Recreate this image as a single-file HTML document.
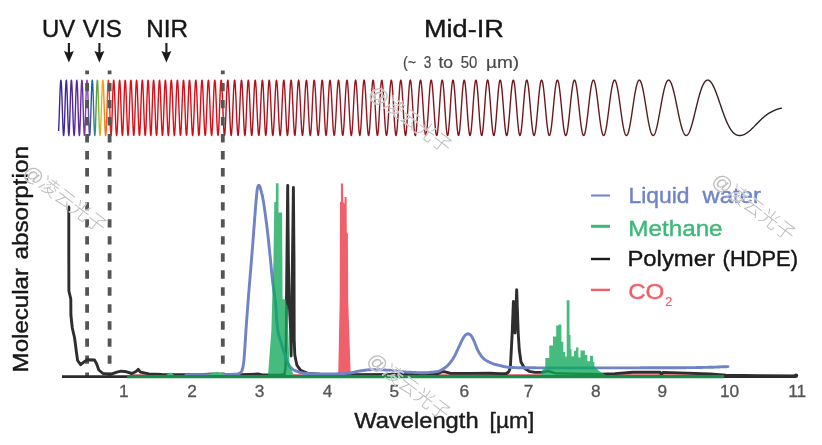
<!DOCTYPE html>
<html lang="en"><head><meta charset="utf-8"><title>Molecular absorption</title>
<style>
html,body{margin:0;padding:0;background:#fff;}
body{width:822px;height:445px;overflow:hidden;font-family:"Liberation Sans","Noto Sans CJK SC",sans-serif;}
svg{display:block;}
svg text{font-family:"Liberation Sans","Noto Sans CJK SC",sans-serif;}
</style></head><body>
<svg width="822" height="445" viewBox="0 0 822 445">
<defs>
<linearGradient id="wg" gradientUnits="userSpaceOnUse" x1="58" y1="0" x2="782" y2="0">
<stop offset="0.0000" stop-color="#38289a"/>
<stop offset="0.0110" stop-color="#42289c"/>
<stop offset="0.0249" stop-color="#58289e"/>
<stop offset="0.0331" stop-color="#6a2aa4"/>
<stop offset="0.0401" stop-color="#8a48b8"/>
<stop offset="0.0435" stop-color="#5a48b0"/>
<stop offset="0.0470" stop-color="#1a58a4"/>
<stop offset="0.0504" stop-color="#2a8a90"/>
<stop offset="0.0544" stop-color="#58a838"/>
<stop offset="0.0580" stop-color="#c8c020"/>
<stop offset="0.0617" stop-color="#f8a818"/>
<stop offset="0.0656" stop-color="#f87018"/>
<stop offset="0.0693" stop-color="#f04020"/>
<stop offset="0.0732" stop-color="#e41818"/>
<stop offset="0.0769" stop-color="#de0e16"/>
<stop offset="0.2271" stop-color="#dc0a14"/>
<stop offset="0.2282" stop-color="#b80e18"/>
<stop offset="0.3550" stop-color="#a0141e"/>
<stop offset="0.4931" stop-color="#8c141c"/>
<stop offset="0.6243" stop-color="#70141c"/>
<stop offset="0.7486" stop-color="#641a1e"/>
<stop offset="0.8039" stop-color="#581e22"/>
<stop offset="0.8453" stop-color="#4a2022"/>
<stop offset="0.9006" stop-color="#3a2022"/>
<stop offset="0.9558" stop-color="#2a2020"/>
<stop offset="1.0000" stop-color="#222222"/>
</linearGradient>
<clipPath id="gclip"><path d="M267.8,375.5 L268.3,372.0 L271.4,330.0 L272.2,300.0 L273.5,258.0 L274.3,202.0 L275.9,202.0 L275.9,183.3 L278.5,183.3 L278.5,212.6 L282.1,212.6 L282.3,250.0 L282.6,299.0 L285.3,299.5 L287.3,310.0 L288.2,330.0 L289.4,364.0 L293.8,375.5Z M541.0,375.5 L542.0,370.0 L545.3,368.5 L545.3,358.0 L549.2,358.0 L549.2,345.6 L553.0,345.6 L553.0,336.6 L556.2,336.6 L556.2,325.6 L558.6,325.6 L558.6,324.4 L561.4,324.4 L561.4,341.8 L563.3,341.8 L563.3,352.0 L565.0,352.0 L565.0,356.5 L566.7,356.5 L566.7,300.3 L569.5,300.3 L569.5,335.0 L570.5,335.0 L570.5,349.0 L571.5,349.0 L571.5,356.3 L574.0,356.3 L574.0,350.8 L576.0,350.8 L576.0,347.4 L578.4,347.4 L578.4,357.4 L580.5,357.4 L580.5,350.4 L584.9,350.4 L584.9,355.0 L587.4,355.0 L587.4,361.2 L590.0,361.2 L590.0,355.7 L593.1,355.7 L593.1,362.0 L594.4,362.0 L594.4,366.5 L598.0,370.0 L602.0,373.0 L606.0,375.5Z M130,375 H724 V378.4 H130 Z"/></clipPath>
</defs>
<rect width="822" height="445" fill="#fff"/>
<!-- spectrum wave -->
<path d="M58.60,130.92 L58.85,125.92 L59.10,119.54 L59.35,112.26 L59.60,104.61 L59.85,97.18 L60.10,90.54 L60.35,85.23 L60.60,81.67 L60.85,80.14 L61.10,80.80 L61.35,83.61 L61.60,88.37 L61.85,94.70 L62.10,102.11 L62.35,110.00 L62.60,117.74 L62.85,124.67 L63.10,130.23 L63.35,133.94 L63.60,135.47 L63.85,134.67 L64.10,131.60 L64.35,126.49 L64.60,119.77 L64.85,112.01 L65.10,103.86 L65.35,96.03 L65.60,89.21 L65.85,84.01 L66.10,80.89 L66.35,80.15 L66.60,81.88 L66.85,85.99 L67.10,92.13 L67.35,99.76 L67.60,108.19 L67.85,116.62 L68.10,124.23 L68.35,130.27 L68.60,134.16 L68.85,135.50 L69.10,134.16 L69.35,130.27 L69.60,124.23 L69.85,116.62 L70.10,108.19 L70.35,99.76 L70.60,92.13 L70.85,85.99 L71.10,81.88 L71.35,80.15 L71.60,80.89 L71.85,83.97 L72.10,89.10 L72.35,95.79 L72.60,103.47 L72.85,111.47 L73.10,119.14 L73.35,125.85 L73.60,131.07 L73.85,134.37 L74.10,135.50 L74.35,134.37 L74.60,131.07 L74.85,125.85 L75.10,119.14 L75.35,111.47 L75.60,103.47 L75.85,95.79 L76.10,89.10 L76.35,83.97 L76.60,80.89 L76.85,80.15 L77.10,81.88 L77.35,85.96 L77.60,92.04 L77.85,99.61 L78.10,107.96 L78.35,116.32 L78.60,123.91 L78.85,129.99 L79.10,133.99 L79.35,135.49 L79.60,134.36 L79.85,130.68 L80.10,124.81 L80.35,117.30 L80.60,108.89 L80.85,100.38 L81.10,92.58 L81.35,86.25 L81.60,81.98 L81.85,80.15 L82.10,80.94 L82.35,84.26 L82.60,89.82 L82.85,97.09 L83.10,105.38 L83.35,113.91 L83.60,121.86 L83.85,128.47 L84.10,133.11 L84.35,135.34 L84.60,134.94 L84.85,131.98 L85.10,126.73 L85.35,119.70 L85.60,111.57 L85.85,103.11 L86.10,95.10 L86.35,88.29 L86.60,83.29 L86.85,80.55 L87.10,80.30 L87.35,82.52 L87.60,86.99 L87.85,93.27 L88.10,100.81 L88.35,108.93 L88.60,116.94 L88.85,124.14 L89.10,129.92 L89.35,133.80 L89.60,135.45 L89.85,134.74 L90.10,131.72 L90.35,126.65 L90.60,119.95 L90.85,112.19 L91.10,104.03 L91.35,96.18 L91.60,89.31 L91.85,84.06 L92.10,80.90 L92.35,80.15 L92.60,81.91 L92.85,86.07 L93.10,92.28 L93.35,99.96 L93.60,108.42 L93.85,116.84 L94.10,124.42 L94.35,130.41 L94.60,134.23 L94.85,135.50 L95.10,134.10 L95.35,130.18 L95.60,124.12 L95.85,116.52 L96.10,108.12 L96.35,99.71 L96.60,92.10 L96.85,85.98 L97.10,81.88 L97.35,80.15 L97.60,80.89 L97.85,84.00 L98.10,89.19 L98.35,95.98 L98.60,103.78 L98.85,111.90 L99.10,119.64 L99.35,126.36 L99.60,131.49 L99.85,134.61 L100.10,135.48 L100.35,134.04 L100.60,130.41 L100.85,124.92 L101.10,118.03 L101.35,110.30 L101.60,102.38 L101.85,94.92 L102.10,88.51 L102.35,83.69 L102.60,80.82 L102.85,80.15 L103.10,81.70 L103.35,85.33 L103.60,90.73 L103.85,97.44 L104.10,104.93 L104.35,112.63 L104.60,119.94 L104.85,126.30 L105.10,131.24 L105.35,134.39 L105.60,135.50 L105.85,134.50 L106.10,131.45 L106.35,126.58 L106.60,120.26 L106.85,112.96 L107.10,105.23 L107.35,97.67 L107.60,90.88 L107.85,85.42 L108.10,81.73 L108.35,80.15 L108.60,80.84 L108.85,83.81 L109.10,88.86 L109.35,95.59 L109.60,103.43 L109.85,111.70 L110.10,119.66 L110.35,126.56 L110.60,131.78 L110.85,134.82 L111.10,135.41 L111.35,133.50 L111.60,129.28 L111.85,123.14 L112.10,115.67 L112.35,107.55 L112.60,99.51 L112.85,92.23 L113.10,86.33 L113.35,82.25 L113.60,80.28 L113.85,80.49 L114.10,82.80 L114.35,86.98 L114.60,92.67 L114.85,99.41 L115.10,106.70 L115.35,114.03 L115.60,120.88 L115.85,126.79 L116.10,131.37 L116.35,134.33 L116.60,135.49 L116.85,134.77 L117.10,132.22 L117.35,128.03 L117.60,122.46 L117.85,115.88 L118.10,108.73 L118.35,101.49 L118.60,94.65 L118.85,88.70 L119.10,84.07 L119.35,81.12 L119.60,80.10 L119.85,81.13 L120.10,84.18 L120.35,89.02 L120.60,95.33 L120.85,102.62 L121.10,110.34 L121.35,117.88 L121.60,124.65 L121.85,130.10 L122.10,133.79 L122.35,135.43 L122.60,134.87 L122.85,132.16 L123.10,127.51 L123.35,121.29 L123.60,114.00 L123.85,106.23 L124.10,98.60 L124.35,91.71 L124.60,86.09 L124.85,82.18 L125.10,80.27 L125.35,80.48 L125.60,82.79 L125.85,87.00 L126.10,92.79 L126.35,99.72 L126.60,107.25 L126.85,114.82 L127.10,121.85 L127.35,127.81 L127.60,132.26 L127.85,134.87 L128.10,135.45 L128.35,133.94 L128.60,130.48 L128.85,125.31 L129.10,118.83 L129.35,111.52 L129.60,103.93 L129.85,96.63 L130.10,90.17 L130.35,85.03 L130.60,81.60 L130.85,80.14 L131.10,80.77 L131.35,83.44 L131.60,87.95 L131.85,93.95 L132.10,101.00 L132.35,108.56 L132.60,116.07 L132.85,122.95 L133.10,128.69 L133.35,132.85 L133.60,135.12 L133.85,135.33 L134.10,133.46 L134.35,129.66 L134.60,124.20 L134.85,117.51 L135.10,110.09 L135.35,102.49 L135.60,95.29 L135.85,89.04 L136.10,84.20 L136.35,81.15 L136.60,80.10 L136.85,81.15 L137.10,84.21 L137.35,89.06 L137.60,95.33 L137.85,102.55 L138.10,110.16 L138.35,117.60 L138.60,124.30 L138.85,129.75 L139.10,133.52 L139.35,135.35 L139.60,135.09 L139.85,132.76 L140.10,128.54 L140.35,122.76 L140.60,115.86 L140.85,108.35 L141.10,100.81 L141.35,93.80 L141.60,87.85 L141.85,83.39 L142.10,80.76 L142.35,80.14 L142.60,81.57 L142.85,84.92 L143.10,89.93 L143.35,96.22 L143.60,103.34 L143.85,110.77 L144.10,117.97 L144.35,124.44 L144.60,129.72 L144.85,133.42 L145.10,135.30 L145.35,135.20 L145.60,133.14 L145.85,129.26 L146.10,123.81 L146.35,117.20 L146.60,109.89 L146.85,102.40 L147.10,95.28 L147.35,89.07 L147.60,84.23 L147.85,81.16 L148.10,80.10 L148.35,81.17 L148.60,84.34 L148.85,89.38 L149.10,95.94 L149.35,103.48 L149.60,111.41 L149.85,119.07 L150.10,125.81 L150.35,131.07 L150.60,134.40 L150.85,135.50 L151.10,134.29 L151.35,130.88 L151.60,125.56 L151.85,118.78 L152.10,111.12 L152.35,103.23 L152.60,95.74 L152.85,89.26 L153.10,84.27 L153.35,81.16 L153.60,80.10 L153.85,81.14 L154.10,84.16 L154.35,88.91 L154.60,95.01 L154.85,102.02 L155.10,109.41 L155.35,116.66 L155.60,123.26 L155.85,128.75 L156.10,132.77 L156.35,135.04 L156.60,135.41 L156.85,133.87 L157.10,130.54 L157.35,125.64 L157.60,119.52 L157.85,112.59 L158.10,105.33 L158.35,98.23 L158.60,91.78 L158.85,86.43 L159.10,82.56 L159.35,80.45 L159.60,80.26 L159.85,82.00 L160.10,85.56 L160.35,90.69 L160.60,97.03 L160.85,104.12 L161.10,111.48 L161.35,118.57 L161.60,124.91 L161.85,130.04 L162.10,133.60 L162.35,135.34 L162.60,135.15 L162.85,133.02 L163.10,129.12 L163.35,123.72 L163.60,117.20 L163.85,110.01 L164.10,102.67 L164.35,95.69 L164.60,89.56 L164.85,84.72 L165.10,81.50 L165.35,80.14 L165.60,80.73 L165.85,83.23 L166.10,87.47 L166.35,93.16 L166.60,99.89 L166.85,107.19 L167.10,114.54 L167.35,121.41 L167.60,127.30 L167.85,131.81 L168.10,134.61 L168.35,135.50 L168.60,134.42 L168.85,131.45 L169.10,126.82 L169.35,120.85 L169.60,113.96 L169.85,106.66 L170.10,99.45 L170.35,92.83 L170.60,87.27 L170.85,83.13 L171.10,80.71 L171.35,80.14 L171.60,81.45 L171.85,84.54 L172.10,89.20 L172.35,95.09 L172.60,101.81 L172.85,108.93 L173.10,115.95 L173.35,122.43 L173.60,127.93 L173.85,132.11 L174.10,134.68 L174.35,135.50 L174.60,134.50 L174.85,131.76 L175.10,127.46 L175.35,121.87 L175.60,115.37 L175.85,108.37 L176.10,101.34 L176.35,94.72 L176.60,88.95 L176.85,84.42 L177.10,81.41 L177.35,80.14 L177.60,80.69 L177.85,83.02 L178.10,86.98 L178.35,92.31 L178.60,98.66 L178.85,105.60 L179.10,112.69 L179.35,119.45 L179.60,125.45 L179.85,130.30 L180.10,133.66 L180.35,135.33 L180.60,135.20 L180.85,133.26 L181.10,129.65 L181.35,124.60 L181.60,118.43 L181.85,111.56 L182.10,104.44 L182.35,97.53 L182.60,91.30 L182.85,86.16 L183.10,82.45 L183.35,80.44 L183.60,80.25 L183.85,81.92 L184.10,85.34 L184.35,90.31 L184.60,96.48 L184.85,103.44 L185.10,110.71 L185.35,117.79 L185.60,124.18 L185.85,129.44 L186.10,133.21 L186.35,135.21 L186.60,135.31 L186.85,133.51 L187.10,129.93 L187.35,124.84 L187.60,118.59 L187.85,111.61 L188.10,104.39 L188.35,97.42 L188.60,91.17 L188.85,86.06 L189.10,82.40 L189.35,80.43 L189.60,80.24 L189.85,81.84 L190.10,85.10 L190.35,89.78 L190.60,95.59 L190.85,102.14 L191.10,109.03 L191.35,115.82 L191.60,122.11 L191.85,127.50 L192.10,131.68 L192.35,134.39 L192.60,135.48 L192.85,134.89 L193.10,132.65 L193.35,128.89 L193.60,123.86 L193.85,117.85 L194.10,111.22 L194.35,104.37 L194.60,97.73 L194.85,91.69 L195.10,86.63 L195.35,82.87 L195.60,80.66 L195.85,80.14 L196.10,81.35 L196.35,84.25 L196.60,88.65 L196.85,94.27 L197.10,100.77 L197.35,107.73 L197.60,114.71 L197.85,121.24 L198.10,126.91 L198.35,131.35 L198.60,134.26 L198.85,135.47 L199.10,134.89 L199.35,132.56 L199.60,128.64 L199.85,123.38 L200.10,117.12 L200.35,110.28 L200.60,103.29 L200.85,96.60 L201.10,90.63 L201.35,85.76 L201.60,82.29 L201.85,80.41 L202.10,80.24 L202.35,81.77 L202.60,84.89 L202.85,89.40 L203.10,95.03 L203.35,101.42 L203.60,108.19 L203.85,114.92 L204.10,121.22 L204.35,126.70 L204.60,131.05 L204.85,134.01 L205.10,135.40 L205.35,135.15 L205.60,133.28 L205.85,129.89 L206.10,125.19 L206.35,119.47 L206.60,113.05 L206.85,106.32 L207.10,99.67 L207.35,93.51 L207.60,88.19 L207.85,84.03 L208.10,81.29 L208.35,80.13 L208.60,80.63 L208.85,82.76 L209.10,86.39 L209.35,91.30 L209.60,97.20 L209.85,103.74 L210.10,110.52 L210.35,117.13 L210.60,123.19 L210.85,128.32 L211.10,132.23 L211.35,134.67 L211.60,135.50 L211.85,134.67 L212.10,132.23 L212.35,128.32 L212.60,123.19 L212.85,117.13 L213.10,110.52 L213.35,103.74 L213.60,97.20 L213.85,91.30 L214.10,86.39 L214.35,82.76 L214.60,80.63 L214.85,80.13 L215.10,81.29 L215.35,84.05 L215.60,88.24 L215.85,93.61 L216.10,99.84 L216.35,106.56 L216.60,113.35 L216.85,119.81 L217.10,125.54 L217.35,130.20 L217.60,133.50 L217.85,135.24 L218.10,135.33 L218.35,133.76 L218.60,130.62 L218.85,126.11 L219.10,120.51 L219.35,114.15 L219.60,107.43 L219.85,100.73 L220.10,94.47 L220.35,89.00 L220.60,84.65 L220.85,81.68 L221.10,80.23 L221.35,80.39 L221.60,82.14 L221.85,85.38 L222.10,89.90 L222.35,95.45 L222.60,101.70 L222.85,108.30 L223.10,114.86 L223.35,121.01 L223.60,126.40 L223.85,130.73 L224.10,133.75 L224.35,135.30 L224.60,135.30 L224.85,133.76 L225.10,130.75 L225.35,126.47 L225.60,121.14 L225.85,115.08 L226.10,108.62 L226.35,102.12 L226.60,95.94 L226.85,90.43 L227.10,85.88 L227.35,82.54 L227.60,80.59 L227.85,80.13 L228.10,81.19 L228.35,83.69 L228.60,87.50 L228.85,92.41 L229.10,98.13 L229.35,104.38 L229.60,110.79 L229.85,117.04 L230.10,122.79 L230.35,127.73 L230.60,131.61 L230.85,134.22 L231.10,135.42 L231.35,135.16 L231.60,133.46 L231.85,130.40 L232.10,126.16 L232.35,120.95 L232.60,115.05 L232.85,108.77 L233.10,102.45 L233.35,96.40 L233.60,90.96 L233.85,86.40 L234.10,82.96 L234.35,80.83 L234.60,80.10 L234.85,80.82 L235.10,82.95 L235.35,86.37 L235.60,90.90 L235.85,96.30 L236.10,102.28 L236.35,108.55 L236.60,114.77 L236.85,120.63 L237.10,125.83 L237.35,130.10 L237.60,133.22 L237.85,135.05 L238.10,135.47 L238.35,134.48 L238.60,132.12 L238.85,128.52 L239.10,123.85 L239.35,118.35 L239.60,112.31 L239.85,106.03 L240.10,99.84 L240.35,94.05 L240.60,88.97 L240.85,84.86 L241.10,81.94 L241.35,80.36 L241.60,80.22 L241.85,81.52 L242.10,84.20 L242.35,88.14 L242.60,93.12 L242.85,98.88 L243.10,105.12 L243.35,111.51 L243.60,117.71 L243.85,123.38 L244.10,128.22 L244.35,131.98 L244.60,134.43 L244.85,135.47 L245.10,135.02 L245.35,133.12 L245.60,129.87 L245.85,125.43 L246.10,120.06 L246.35,114.03 L246.60,107.68 L246.85,101.34 L247.10,95.35 L247.35,90.02 L247.60,85.64 L247.85,82.43 L248.10,80.57 L248.35,80.13 L248.60,81.14 L248.85,83.55 L249.10,87.24 L249.35,92.00 L249.60,97.59 L249.85,103.72 L250.10,110.06 L250.35,116.27 L250.60,122.05 L250.85,127.07 L251.10,131.09 L251.35,133.88 L251.60,135.32 L251.85,135.32 L252.10,133.90 L252.35,131.12 L252.60,127.15 L252.85,122.18 L253.10,116.49 L253.35,110.35 L253.60,104.10 L253.85,98.05 L254.10,92.50 L254.35,87.74 L254.60,83.99 L254.85,81.44 L255.10,80.21 L255.35,80.35 L255.60,81.83 L255.85,84.57 L256.10,88.42 L256.35,93.18 L256.60,98.63 L256.85,104.49 L257.10,110.49 L257.35,116.35 L257.60,121.81 L257.85,126.60 L258.10,130.52 L258.35,133.38 L258.60,135.06 L258.85,135.48 L259.10,134.62 L259.35,132.52 L259.60,129.26 L259.85,125.01 L260.10,119.94 L260.35,114.30 L260.60,108.33 L260.85,102.32 L261.10,96.56 L261.35,91.31 L261.60,86.84 L261.85,83.37 L262.10,81.09 L262.35,80.13 L262.60,80.55 L262.85,82.36 L263.10,85.49 L263.35,89.79 L263.60,95.07 L263.85,101.04 L264.10,107.39 L264.35,113.79 L264.60,119.88 L264.85,125.33 L265.10,129.83 L265.35,133.13 L265.60,135.04 L265.85,135.46 L266.10,134.37 L266.35,131.82 L266.60,127.97 L266.85,123.02 L267.10,117.27 L267.35,111.02 L267.60,104.62 L267.85,98.41 L268.10,92.72 L268.35,87.85 L268.60,84.03 L268.85,81.45 L269.10,80.21 L269.35,80.35 L269.60,81.83 L269.85,84.57 L270.10,88.42 L270.35,93.19 L270.60,98.63 L270.85,104.48 L271.10,110.47 L271.35,116.32 L271.60,121.76 L271.85,126.55 L272.10,130.46 L272.35,133.33 L272.60,135.03 L272.85,135.49 L273.10,134.70 L273.35,132.69 L273.60,129.56 L273.85,125.46 L274.10,120.56 L274.35,115.08 L274.60,109.27 L274.85,103.40 L275.10,97.72 L275.35,92.49 L275.60,87.95 L275.85,84.30 L276.10,81.72 L276.35,80.33 L276.60,80.20 L276.85,81.35 L277.10,83.71 L277.35,87.19 L277.60,91.61 L277.85,96.79 L278.10,102.47 L278.35,108.40 L278.60,114.30 L278.85,119.90 L279.10,124.94 L279.35,129.19 L279.60,132.45 L279.85,134.58 L280.10,135.47 L280.35,135.09 L280.60,133.45 L280.85,130.62 L281.10,126.74 L281.35,121.99 L281.60,116.59 L281.85,110.77 L282.10,104.83 L282.35,99.01 L282.60,93.61 L282.85,88.86 L283.10,84.98 L283.35,82.15 L283.60,80.51 L283.85,80.13 L284.10,81.02 L284.35,83.15 L284.60,86.43 L284.85,90.70 L285.10,95.76 L285.35,101.39 L285.60,107.31 L285.85,113.26 L286.10,118.96 L286.35,124.14 L286.60,128.55 L286.85,132.00 L287.10,134.33 L287.35,135.42 L287.60,135.23 L287.85,133.76 L288.10,131.10 L288.35,127.36 L288.60,122.71 L288.85,117.38 L289.10,111.62 L289.35,105.69 L289.60,99.86 L289.85,94.40 L290.10,89.56 L290.35,85.56 L290.60,82.57 L290.85,80.72 L291.10,80.10 L291.35,80.72 L291.60,82.56 L291.85,85.52 L292.10,89.48 L292.35,94.26 L292.60,99.63 L292.85,105.37 L293.10,111.21 L293.35,116.89 L293.60,122.17 L293.85,126.80 L294.10,130.59 L294.35,133.38 L294.60,135.03 L294.85,135.49 L295.10,134.73 L295.35,132.80 L295.60,129.78 L295.85,125.81 L296.10,121.06 L296.35,115.74 L296.60,110.09 L296.85,104.34 L297.10,98.76 L297.35,93.56 L297.60,88.99 L297.85,85.22 L298.10,82.41 L298.35,80.68 L298.60,80.10 L298.85,80.68 L299.10,82.39 L299.35,85.16 L299.60,88.85 L299.85,93.32 L300.10,98.38 L300.35,103.81 L300.60,109.40 L300.85,114.92 L301.10,120.13 L301.35,124.84 L301.60,128.86 L301.85,132.03 L302.10,134.22 L302.35,135.35 L302.60,135.37 L302.85,134.30 L303.10,132.16 L303.35,129.05 L303.60,125.10 L303.85,120.45 L304.10,115.30 L304.35,109.85 L304.60,104.32 L304.85,98.93 L305.10,93.88 L305.35,89.39 L305.60,85.64 L305.85,82.77 L306.10,80.90 L306.35,80.12 L306.60,80.46 L306.85,81.90 L307.10,84.40 L307.35,87.84 L307.60,92.10 L307.85,97.00 L308.10,102.34 L308.35,107.90 L308.60,113.46 L308.85,118.79 L309.10,123.68 L309.35,127.91 L309.60,131.33 L309.85,133.78 L310.10,135.18 L310.35,135.46 L310.60,134.62 L310.85,132.69 L311.10,129.75 L311.35,125.93 L311.60,121.37 L311.85,116.27 L312.10,110.83 L312.35,105.27 L312.60,99.82 L312.85,94.70 L313.10,90.11 L313.35,86.22 L313.60,83.21 L313.85,81.17 L314.10,80.19 L314.35,80.30 L314.60,81.49 L314.85,83.70 L315.10,86.85 L315.35,90.80 L315.60,95.41 L315.85,100.49 L316.10,105.84 L316.35,111.26 L316.60,116.54 L316.85,121.48 L317.10,125.90 L317.35,129.62 L317.60,132.52 L317.85,134.47 L318.10,135.42 L318.35,135.31 L318.60,134.16 L318.85,132.01 L319.10,128.94 L319.35,125.06 L319.60,120.53 L319.85,115.50 L320.10,110.18 L320.35,104.75 L320.60,99.44 L320.85,94.44 L321.10,89.96 L321.35,86.15 L321.60,83.18 L321.85,81.16 L322.10,80.19 L322.35,80.30 L322.60,81.50 L322.85,83.76 L323.10,86.99 L323.35,91.08 L323.60,95.86 L323.85,101.14 L324.10,106.71 L324.35,112.33 L324.60,117.77 L324.85,122.80 L325.10,127.22 L325.35,130.82 L325.60,133.47 L325.85,135.05 L326.10,135.49 L326.35,134.79 L326.60,132.96 L326.85,130.11 L327.10,126.34 L327.35,121.82 L327.60,116.73 L327.85,111.31 L328.10,105.76 L328.35,100.31 L328.60,95.18 L328.85,90.57 L329.10,86.65 L329.35,83.56 L329.60,81.42 L329.85,80.29 L330.10,80.18 L330.35,81.10 L330.60,82.98 L330.85,85.76 L331.10,89.31 L331.35,93.51 L331.60,98.19 L331.85,103.20 L332.10,108.35 L332.35,113.46 L332.60,118.37 L332.85,122.90 L333.10,126.90 L333.35,130.25 L333.60,132.84 L333.85,134.58 L334.10,135.42 L334.35,135.34 L334.60,134.34 L334.85,132.47 L335.10,129.77 L335.35,126.35 L335.60,122.32 L335.85,117.81 L336.10,112.97 L336.35,107.95 L336.60,102.92 L336.85,98.06 L337.10,93.51 L337.35,89.43 L337.60,85.96 L337.85,83.22 L338.10,81.30 L338.35,80.27 L338.60,80.18 L338.85,81.02 L339.10,82.78 L339.35,85.40 L339.60,88.77 L339.85,92.80 L340.10,97.35 L340.35,102.24 L340.60,107.33 L340.85,112.44 L341.10,117.39 L341.35,122.01 L341.60,126.14 L341.85,129.65 L342.10,132.41 L342.35,134.33 L342.60,135.34 L342.85,135.41 L343.10,134.54 L343.35,132.76 L343.60,130.12 L343.85,126.73 L344.10,122.69 L344.35,118.14 L344.60,113.25 L344.85,108.17 L345.10,103.08 L345.35,98.15 L345.60,93.56 L345.85,89.44 L346.10,85.95 L346.35,83.21 L346.60,81.29 L346.85,80.27 L347.10,80.17 L347.35,81.01 L347.60,82.74 L347.85,85.31 L348.10,88.64 L348.35,92.59 L348.60,97.06 L348.85,101.87 L349.10,106.88 L349.35,111.92 L349.60,116.82 L349.85,121.42 L350.10,125.57 L350.35,129.13 L350.60,131.98 L350.85,134.02 L351.10,135.21 L351.35,135.48 L351.60,134.84 L351.85,133.31 L352.10,130.93 L352.35,127.78 L352.60,123.97 L352.85,119.63 L353.10,114.89 L353.35,109.92 L353.60,104.87 L353.85,99.91 L354.10,95.22 L354.35,90.94 L354.60,87.22 L354.85,84.19 L355.10,81.95 L355.35,80.57 L355.60,80.10 L355.85,80.57 L356.10,81.96 L356.35,84.23 L356.60,87.31 L356.85,91.09 L357.10,95.46 L357.35,100.25 L357.60,105.31 L357.85,110.46 L358.10,115.53 L358.35,120.32 L358.60,124.69 L358.85,128.47 L359.10,131.53 L359.35,133.77 L359.60,135.11 L359.85,135.50 L360.10,134.93 L360.35,133.42 L360.60,131.03 L360.85,127.84 L361.10,123.97 L361.35,119.55 L361.60,114.74 L361.85,109.71 L362.10,104.61 L362.35,99.64 L362.60,94.95 L362.85,90.70 L363.10,87.04 L363.35,84.06 L363.60,81.88 L363.85,80.55 L364.10,80.10 L364.35,80.54 L364.60,81.85 L364.85,83.98 L365.10,86.85 L365.35,90.36 L365.60,94.40 L365.85,98.84 L366.10,103.54 L366.35,108.37 L366.60,113.16 L366.85,117.79 L367.10,122.10 L367.35,125.98 L367.60,129.31 L367.85,131.99 L368.10,133.95 L368.35,135.13 L368.60,135.50 L368.85,135.04 L369.10,133.78 L369.35,131.74 L369.60,129.00 L369.85,125.62 L370.10,121.71 L370.35,117.38 L370.60,112.76 L370.85,107.98 L371.10,103.19 L371.35,98.53 L371.60,94.15 L371.85,90.17 L372.10,86.71 L372.35,83.90 L372.60,81.82 L372.85,80.53 L373.10,80.10 L373.35,80.54 L373.60,81.84 L373.85,83.98 L374.10,86.90 L374.35,90.50 L374.60,94.68 L374.85,99.30 L375.10,104.22 L375.35,109.26 L375.60,114.26 L375.85,119.05 L376.10,123.47 L376.35,127.37 L376.60,130.62 L376.85,133.10 L377.10,134.73 L377.35,135.46 L377.60,135.26 L377.85,134.15 L378.10,132.15 L378.35,129.35 L378.60,125.84 L378.85,121.74 L379.10,117.19 L379.35,112.35 L379.60,107.38 L379.85,102.43 L380.10,97.67 L380.35,93.26 L380.60,89.32 L380.85,85.98 L381.10,83.33 L381.35,81.44 L381.60,80.37 L381.85,80.12 L382.10,80.69 L382.35,82.06 L382.60,84.17 L382.85,86.96 L383.10,90.33 L383.35,94.19 L383.60,98.42 L383.85,102.90 L384.10,107.51 L384.35,112.10 L384.60,116.57 L384.85,120.79 L385.10,124.64 L385.35,128.02 L385.60,130.85 L385.85,133.05 L386.10,134.57 L386.35,135.37 L386.60,135.44 L386.85,134.76 L387.10,133.37 L387.35,131.31 L387.60,128.62 L387.85,125.38 L388.10,121.67 L388.35,117.60 L388.60,113.27 L388.85,108.79 L389.10,104.28 L389.35,99.87 L389.60,95.66 L389.85,91.77 L390.10,88.30 L390.35,85.35 L390.60,83.00 L390.85,81.31 L391.10,80.34 L391.35,80.12 L391.60,80.64 L391.85,81.91 L392.10,83.89 L392.35,86.52 L392.60,89.72 L392.85,93.42 L393.10,97.52 L393.35,101.89 L393.60,106.43 L393.85,111.00 L394.10,115.48 L394.35,119.76 L394.60,123.71 L394.85,127.22 L395.10,130.21 L395.35,132.58 L395.60,134.28 L395.85,135.26 L396.10,135.48 L396.35,134.96 L396.60,133.69 L396.85,131.71 L397.10,129.08 L397.35,125.88 L397.60,122.18 L397.85,118.08 L398.10,113.71 L398.35,109.17 L398.60,104.60 L398.85,100.12 L399.10,95.84 L399.35,91.89 L399.60,88.38 L399.85,85.39 L400.10,83.02 L400.35,81.32 L400.60,80.34 L400.85,80.12 L401.10,80.64 L401.35,81.92 L401.60,83.91 L401.85,86.56 L402.10,89.80 L402.35,93.54 L402.60,97.68 L402.85,102.11 L403.10,106.70 L403.35,111.32 L403.60,115.84 L403.85,120.14 L404.10,124.10 L404.35,127.60 L404.60,130.55 L404.85,132.86 L405.10,134.48 L405.35,135.34 L405.60,135.45 L405.85,134.79 L406.10,133.38 L406.35,131.26 L406.60,128.51 L406.85,125.18 L407.10,121.39 L407.35,117.24 L407.60,112.84 L407.85,108.31 L408.10,103.77 L408.35,99.36 L408.60,95.18 L408.85,91.35 L409.10,87.96 L409.35,85.10 L409.60,82.85 L409.85,81.24 L410.10,80.33 L410.35,80.11 L410.60,80.60 L410.85,81.78 L411.10,83.61 L411.35,86.04 L411.60,89.00 L411.85,92.43 L412.10,96.22 L412.35,100.30 L412.60,104.55 L412.85,108.87 L413.10,113.16 L413.35,117.31 L413.60,121.23 L413.85,124.81 L414.10,127.98 L414.35,130.66 L414.60,132.80 L414.85,134.33 L415.10,135.24 L415.35,135.50 L415.60,135.10 L415.85,134.07 L416.10,132.42 L416.35,130.20 L416.60,127.47 L416.85,124.28 L417.10,120.71 L417.35,116.85 L417.60,112.78 L417.85,108.61 L418.10,104.42 L418.35,100.31 L418.60,96.37 L418.85,92.71 L419.10,89.38 L419.35,86.48 L419.60,84.07 L419.85,82.19 L420.10,80.90 L420.35,80.21 L420.60,80.15 L420.85,80.71 L421.10,81.88 L421.35,83.62 L421.60,85.91 L421.85,88.67 L422.10,91.86 L422.35,95.39 L422.60,99.20 L422.85,103.19 L423.10,107.27 L423.35,111.36 L423.60,115.37 L423.85,119.21 L424.10,122.80 L424.35,126.05 L424.60,128.91 L424.85,131.31 L425.10,133.20 L425.35,134.54 L425.60,135.31 L425.85,135.49 L426.10,135.07 L426.35,134.07 L426.60,132.52 L426.85,130.43 L427.10,127.87 L427.35,124.89 L427.60,121.54 L427.85,117.90 L428.10,114.06 L428.35,110.08 L428.60,106.06 L428.85,102.08 L429.10,98.22 L429.35,94.56 L429.60,91.18 L429.85,88.15 L430.10,85.54 L430.35,83.39 L430.60,81.76 L430.85,80.67 L431.10,80.15 L431.35,80.20 L431.60,80.84 L431.85,82.03 L432.10,83.76 L432.35,85.98 L432.60,88.65 L432.85,91.71 L433.10,95.09 L433.35,98.73 L433.60,102.56 L433.85,106.48 L434.10,110.43 L434.35,114.33 L434.60,118.08 L434.85,121.63 L435.10,124.89 L435.35,127.81 L435.60,130.32 L435.85,132.38 L436.10,133.94 L436.35,134.97 L436.60,135.46 L436.85,135.39 L437.10,134.77 L437.35,133.60 L437.60,131.91 L437.85,129.74 L438.10,127.12 L438.35,124.12 L438.60,120.78 L438.85,117.18 L439.10,113.39 L439.35,109.49 L439.60,105.55 L439.85,101.65 L440.10,97.87 L440.35,94.29 L440.60,90.99 L440.85,88.02 L441.10,85.45 L441.35,83.34 L441.60,81.73 L441.85,80.66 L442.10,80.15 L442.35,80.20 L442.60,80.84 L442.85,82.03 L443.10,83.77 L443.35,86.01 L443.60,88.71 L443.85,91.82 L444.10,95.27 L444.35,98.99 L444.60,102.90 L444.85,106.91 L445.10,110.95 L445.35,114.93 L445.60,118.75 L445.85,122.34 L446.10,125.63 L446.35,128.53 L446.60,130.99 L446.85,132.95 L447.10,134.38 L447.35,135.23 L447.60,135.50 L447.85,135.17 L448.10,134.26 L448.35,132.79 L448.60,130.78 L448.85,128.28 L449.10,125.35 L449.35,122.05 L449.60,118.44 L449.85,114.62 L450.10,110.65 L450.35,106.63 L450.60,102.63 L450.85,98.75 L451.10,95.07 L451.35,91.66 L451.60,88.58 L451.85,85.92 L452.10,83.71 L452.35,82.00 L452.60,80.82 L452.85,80.20 L453.10,80.15 L453.35,80.65 L453.60,81.71 L453.85,83.29 L454.10,85.38 L454.35,87.91 L454.60,90.84 L454.85,94.12 L455.10,97.67 L455.35,101.41 L455.60,105.29 L455.85,109.21 L456.10,113.10 L456.35,116.88 L456.60,120.48 L456.85,123.82 L457.10,126.84 L457.35,129.48 L457.60,131.68 L457.85,133.42 L458.10,134.64 L458.35,135.34 L458.60,135.49 L458.85,135.09 L459.10,134.16 L459.35,132.72 L459.60,130.79 L459.85,128.41 L460.10,125.63 L460.35,122.51 L460.60,119.11 L460.85,115.49 L461.10,111.73 L461.35,107.89 L461.60,104.06 L461.85,100.30 L462.10,96.69 L462.35,93.29 L462.60,90.18 L462.85,87.40 L463.10,85.02 L463.35,83.07 L463.60,81.59 L463.85,80.61 L464.10,80.14 L464.35,80.19 L464.60,80.76 L464.85,81.84 L465.10,83.39 L465.35,85.40 L465.60,87.81 L465.85,90.59 L466.10,93.68 L466.35,97.03 L466.60,100.57 L466.85,104.24 L467.10,107.96 L467.35,111.68 L467.60,115.33 L467.85,118.84 L468.10,122.14 L468.35,125.18 L468.60,127.91 L468.85,130.27 L469.10,132.23 L469.35,133.75 L469.60,134.81 L469.85,135.39 L470.10,135.47 L470.35,135.07 L470.60,134.17 L470.85,132.81 L471.10,131.01 L471.35,128.79 L471.60,126.20 L471.85,123.29 L472.10,120.10 L472.35,116.69 L472.60,113.13 L472.85,109.47 L473.10,105.78 L473.35,102.12 L473.60,98.56 L473.85,95.17 L474.10,92.00 L474.35,89.11 L474.60,86.55 L474.85,84.37 L475.10,82.61 L475.35,81.30 L475.60,80.46 L475.85,80.11 L476.10,80.26 L476.35,80.91 L476.60,82.04 L476.85,83.65 L477.10,85.69 L477.35,88.14 L477.60,90.95 L477.85,94.08 L478.10,97.46 L478.35,101.02 L478.60,104.72 L478.85,108.47 L479.10,112.22 L479.35,115.88 L479.60,119.40 L479.85,122.70 L480.10,125.72 L480.35,128.42 L480.60,130.73 L480.85,132.63 L481.10,134.06 L481.35,135.01 L481.60,135.46 L481.85,135.40 L482.10,134.84 L482.35,133.79 L482.60,132.26 L482.85,130.29 L483.10,127.91 L483.35,125.17 L483.60,122.12 L483.85,118.82 L484.10,115.32 L484.35,111.70 L484.60,108.01 L484.85,104.33 L485.10,100.72 L485.35,97.23 L485.60,93.95 L485.85,90.91 L486.10,88.17 L486.35,85.78 L486.60,83.77 L486.85,82.18 L487.10,81.03 L487.35,80.33 L487.60,80.10 L487.85,80.33 L488.10,81.02 L488.35,82.15 L488.60,83.70 L488.85,85.64 L489.10,87.94 L489.35,90.56 L489.60,93.45 L489.85,96.58 L490.10,99.87 L490.35,103.29 L490.60,106.78 L490.85,110.27 L491.10,113.72 L491.35,117.07 L491.60,120.27 L491.85,123.27 L492.10,126.02 L492.35,128.48 L492.60,130.62 L492.85,132.40 L493.10,133.79 L493.35,134.78 L493.60,135.35 L493.85,135.49 L494.10,135.21 L494.35,134.51 L494.60,133.40 L494.85,131.90 L495.10,130.04 L495.35,127.84 L495.60,125.33 L495.85,122.56 L496.10,119.57 L496.35,116.41 L496.60,113.11 L496.85,109.74 L497.10,106.34 L497.35,102.97 L497.60,99.67 L497.85,96.49 L498.10,93.48 L498.35,90.69 L498.60,88.16 L498.85,85.92 L499.10,84.01 L499.35,82.46 L499.60,81.28 L499.85,80.50 L500.10,80.13 L500.35,80.17 L500.60,80.63 L500.85,81.48 L501.10,82.73 L501.35,84.35 L501.60,86.31 L501.85,88.59 L502.10,91.15 L502.35,93.96 L502.60,96.96 L502.85,100.12 L503.10,103.39 L503.35,106.73 L503.60,110.07 L503.85,113.38 L504.10,116.61 L504.35,119.71 L504.60,122.63 L504.85,125.33 L505.10,127.78 L505.35,129.94 L505.60,131.77 L505.85,133.26 L506.10,134.39 L506.35,135.13 L506.60,135.47 L506.85,135.42 L507.10,134.98 L507.35,134.14 L507.60,132.93 L507.85,131.37 L508.10,129.46 L508.35,127.26 L508.60,124.77 L508.85,122.05 L509.10,119.12 L509.35,116.04 L509.60,112.84 L509.85,109.58 L510.10,106.29 L510.35,103.02 L510.60,99.82 L510.85,96.74 L511.10,93.81 L511.35,91.08 L511.60,88.59 L511.85,86.36 L512.10,84.44 L512.35,82.85 L512.60,81.60 L512.85,80.72 L513.10,80.22 L513.35,80.11 L513.60,80.38 L513.85,81.03 L514.10,82.06 L514.35,83.45 L514.60,85.17 L514.85,87.22 L515.10,89.55 L515.35,92.14 L515.60,94.95 L515.85,97.94 L516.10,101.07 L516.35,104.29 L516.60,107.56 L516.85,110.83 L517.10,114.06 L517.35,117.20 L517.60,120.20 L517.85,123.03 L518.10,125.65 L518.35,128.02 L518.60,130.11 L518.85,131.88 L519.10,133.32 L519.35,134.41 L519.60,135.13 L519.85,135.47 L520.10,135.43 L520.35,135.01 L520.60,134.22 L520.85,133.07 L521.10,131.58 L521.35,129.77 L521.60,127.66 L521.85,125.28 L522.10,122.68 L522.35,119.88 L522.60,116.92 L522.85,113.85 L523.10,110.70 L523.35,107.52 L523.60,104.35 L523.85,101.23 L524.10,98.21 L524.35,95.31 L524.60,92.59 L524.85,90.06 L525.10,87.77 L525.35,85.74 L525.60,84.00 L525.85,82.56 L526.10,81.44 L526.35,80.65 L526.60,80.21 L526.85,80.11 L527.10,80.35 L527.35,80.92 L527.60,81.82 L527.85,83.04 L528.10,84.55 L528.35,86.34 L528.60,88.39 L528.85,90.66 L529.10,93.14 L529.35,95.79 L529.60,98.57 L529.85,101.46 L530.10,104.42 L530.35,107.41 L530.60,110.40 L530.85,113.36 L531.10,116.24 L531.35,119.03 L531.60,121.68 L531.85,124.17 L532.10,126.46 L532.35,128.54 L532.60,130.38 L532.85,131.96 L533.10,133.26 L533.35,134.28 L533.60,134.99 L533.85,135.40 L534.10,135.49 L534.35,135.28 L534.60,134.76 L534.85,133.95 L535.10,132.84 L535.35,131.46 L535.60,129.82 L535.85,127.93 L536.10,125.83 L536.35,123.54 L536.60,121.07 L536.85,118.46 L537.10,115.74 L537.35,112.94 L537.60,110.08 L537.85,107.20 L538.10,104.33 L538.35,101.51 L538.60,98.75 L538.85,96.09 L539.10,93.56 L539.35,91.18 L539.60,88.98 L539.85,86.99 L540.10,85.21 L540.35,83.68 L540.60,82.41 L540.85,81.41 L541.10,80.68 L541.35,80.25 L541.60,80.10 L541.85,80.25 L542.10,80.68 L542.35,81.40 L542.60,82.40 L542.85,83.66 L543.10,85.17 L543.35,86.92 L543.60,88.88 L543.85,91.04 L544.10,93.36 L544.35,95.84 L544.60,98.44 L544.85,101.13 L545.10,103.89 L545.35,106.68 L545.60,109.49 L545.85,112.27 L546.10,115.01 L546.35,117.67 L546.60,120.22 L546.85,122.65 L547.10,124.92 L547.35,127.02 L547.60,128.93 L547.85,130.62 L548.10,132.07 L548.35,133.29 L548.60,134.24 L548.85,134.93 L549.10,135.35 L549.35,135.50 L549.60,135.37 L549.85,134.97 L550.10,134.30 L550.35,133.37 L550.60,132.19 L550.85,130.78 L551.10,129.14 L551.35,127.29 L551.60,125.26 L551.85,123.06 L552.10,120.71 L552.35,118.25 L552.60,115.68 L552.85,113.05 L553.10,110.36 L553.35,107.66 L553.60,104.96 L553.85,102.29 L554.10,99.68 L554.35,97.14 L554.60,94.71 L554.85,92.41 L555.10,90.25 L555.35,88.27 L555.60,86.46 L555.85,84.86 L556.10,83.47 L556.35,82.31 L556.60,81.39 L556.85,80.71 L557.10,80.28 L557.35,80.11 L557.60,80.18 L557.85,80.51 L558.10,81.08 L558.35,81.90 L558.60,82.95 L558.85,84.22 L559.10,85.71 L559.35,87.39 L559.60,89.26 L559.85,91.29 L560.10,93.46 L560.35,95.76 L560.60,98.17 L560.85,100.66 L561.10,103.21 L561.35,105.80 L561.60,108.40 L561.85,111.00 L562.10,113.56 L562.35,116.07 L562.60,118.51 L562.85,120.85 L563.10,123.07 L563.35,125.15 L563.60,127.09 L563.85,128.85 L564.10,130.43 L564.35,131.82 L564.60,132.99 L564.85,133.95 L565.10,134.68 L565.35,135.18 L565.60,135.45 L565.85,135.48 L566.10,135.28 L566.35,134.85 L566.60,134.19 L566.85,133.31 L567.10,132.21 L567.35,130.91 L567.60,129.42 L567.85,127.76 L568.10,125.93 L568.35,123.95 L568.60,121.84 L568.85,119.62 L569.10,117.31 L569.35,114.92 L569.60,112.48 L569.85,110.00 L570.10,107.51 L570.35,105.03 L570.60,102.57 L570.85,100.16 L571.10,97.81 L571.35,95.55 L571.60,93.38 L571.85,91.34 L572.10,89.43 L572.35,87.66 L572.60,86.06 L572.85,84.63 L573.10,83.38 L573.35,82.32 L573.60,81.47 L573.85,80.81 L574.10,80.37 L574.35,80.14 L574.60,80.12 L574.85,80.31 L575.10,80.70 L575.35,81.31 L575.60,82.11 L575.85,83.11 L576.10,84.29 L576.35,85.64 L576.60,87.16 L576.85,88.83 L577.10,90.64 L577.35,92.58 L577.60,94.63 L577.85,96.77 L578.10,98.99 L578.35,101.27 L578.60,103.60 L578.85,105.96 L579.10,108.32 L579.35,110.68 L579.60,113.02 L579.85,115.31 L580.10,117.55 L580.35,119.71 L580.60,121.79 L580.85,123.76 L581.10,125.62 L581.35,127.34 L581.60,128.93 L581.85,130.36 L582.10,131.63 L582.35,132.73 L582.60,133.66 L582.85,134.40 L583.10,134.95 L583.35,135.31 L583.60,135.49 L583.85,135.46 L584.10,135.25 L584.35,134.85 L584.60,134.26 L584.85,133.49 L585.10,132.55 L585.35,131.44 L585.60,130.17 L585.85,128.75 L586.10,127.19 L586.35,125.50 L586.60,123.69 L586.85,121.79 L587.10,119.79 L587.35,117.71 L587.60,115.57 L587.85,113.38 L588.10,111.16 L588.35,108.92 L588.60,106.68 L588.85,104.45 L589.10,102.24 L589.35,100.07 L589.60,97.96 L589.85,95.91 L590.10,93.94 L590.35,92.07 L590.60,90.30 L590.85,88.64 L591.10,87.11 L591.35,85.71 L591.60,84.45 L591.85,83.34 L592.10,82.39 L592.35,81.60 L592.60,80.97 L592.85,80.51 L593.10,80.22 L593.35,80.10 L593.60,80.15 L593.85,80.38 L594.10,80.76 L594.35,81.32 L594.60,82.03 L594.85,82.90 L595.10,83.92 L595.35,85.09 L595.60,86.39 L595.85,87.82 L596.10,89.36 L596.35,91.02 L596.60,92.77 L596.85,94.62 L597.10,96.54 L597.35,98.52 L597.60,100.56 L597.85,102.64 L598.10,104.74 L598.35,106.87 L598.60,108.99 L598.85,111.10 L599.10,113.20 L599.35,115.26 L599.60,117.27 L599.85,119.22 L600.10,121.11 L600.35,122.92 L600.60,124.63 L600.85,126.25 L601.10,127.76 L601.35,129.16 L601.60,130.43 L601.85,131.57 L602.10,132.57 L602.35,133.43 L602.60,134.15 L602.85,134.71 L603.10,135.13 L603.35,135.39 L603.60,135.50 L603.85,135.45 L604.10,135.25 L604.35,134.90 L604.60,134.40 L604.85,133.76 L605.10,132.97 L605.35,132.05 L605.60,131.00 L605.85,129.82 L606.10,128.53 L606.35,127.13 L606.60,125.63 L606.85,124.03 L607.10,122.35 L607.35,120.60 L607.60,118.78 L607.85,116.91 L608.10,114.99 L608.35,113.04 L608.60,111.07 L608.85,109.08 L609.10,107.09 L609.35,105.11 L609.60,103.14 L609.85,101.20 L610.10,99.30 L610.35,97.45 L610.60,95.65 L610.85,93.92 L611.10,92.26 L611.35,90.68 L611.60,89.19 L611.85,87.79 L612.10,86.50 L612.35,85.31 L612.60,84.24 L612.85,83.28 L613.10,82.44 L613.35,81.73 L613.60,81.15 L613.85,80.69 L614.10,80.36 L614.35,80.17 L614.60,80.10 L614.85,80.17 L615.10,80.36 L615.35,80.68 L615.60,81.13 L615.85,81.70 L616.10,82.39 L616.35,83.20 L616.60,84.12 L616.85,85.15 L617.10,86.28 L617.35,87.51 L617.60,88.82 L617.85,90.22 L618.10,91.70 L618.35,93.25 L618.60,94.87 L618.85,96.53 L619.10,98.25 L619.35,100.01 L619.60,101.80 L619.85,103.61 L620.10,105.44 L620.35,107.27 L620.60,109.11 L620.85,110.94 L621.10,112.75 L621.35,114.54 L621.60,116.29 L621.85,118.01 L622.10,119.67 L622.35,121.29 L622.60,122.84 L622.85,124.33 L623.10,125.75 L623.35,127.08 L623.60,128.34 L623.85,129.50 L624.10,130.57 L624.35,131.54 L624.60,132.42 L624.85,133.18 L625.10,133.85 L625.35,134.40 L625.60,134.84 L625.85,135.17 L626.10,135.39 L626.35,135.49 L626.60,135.48 L626.85,135.36 L627.10,135.12 L627.35,134.78 L627.60,134.33 L627.85,133.77 L628.10,133.11 L628.35,132.35 L628.60,131.49 L628.85,130.54 L629.10,129.51 L629.35,128.38 L629.60,127.18 L629.85,125.91 L630.10,124.57 L630.35,123.16 L630.60,121.70 L630.85,120.19 L631.10,118.63 L631.35,117.03 L631.60,115.40 L631.85,113.75 L632.10,112.07 L632.35,110.38 L632.60,108.69 L632.85,106.99 L633.10,105.30 L633.35,103.63 L633.60,101.97 L633.85,100.33 L634.10,98.73 L634.35,97.16 L634.60,95.63 L634.85,94.16 L635.10,92.73 L635.35,91.36 L635.60,90.05 L635.85,88.81 L636.10,87.64 L636.35,86.54 L636.60,85.52 L636.85,84.58 L637.10,83.73 L637.35,82.96 L637.60,82.28 L637.85,81.69 L638.10,81.19 L638.35,80.78 L638.60,80.47 L638.85,80.25 L639.10,80.13 L639.35,80.10 L639.60,80.17 L639.85,80.33 L640.10,80.58 L640.35,80.92 L640.60,81.36 L640.85,81.88 L641.10,82.50 L641.35,83.19 L641.60,83.97 L641.85,84.83 L642.10,85.76 L642.35,86.77 L642.60,87.84 L642.85,88.98 L643.10,90.19 L643.35,91.45 L643.60,92.76 L643.85,94.12 L644.10,95.53 L644.35,96.98 L644.60,98.45 L644.85,99.96 L645.10,101.49 L645.35,103.05 L645.60,104.61 L645.85,106.18 L646.10,107.76 L646.35,109.34 L646.60,110.91 L646.85,112.46 L647.10,114.00 L647.35,115.52 L647.60,117.01 L647.85,118.47 L648.10,119.90 L648.35,121.28 L648.60,122.62 L648.85,123.91 L649.10,125.15 L649.35,126.33 L649.60,127.45 L649.85,128.51 L650.10,129.50 L650.35,130.43 L650.60,131.28 L650.85,132.06 L651.10,132.76 L651.35,133.39 L651.60,133.94 L651.85,134.40 L652.10,134.79 L652.35,135.09 L652.60,135.31 L652.85,135.45 L653.10,135.50 L653.35,135.47 L653.60,135.36 L653.85,135.17 L654.10,134.89 L654.35,134.54 L654.60,134.11 L654.85,133.61 L655.10,133.03 L655.35,132.38 L655.60,131.66 L655.85,130.87 L656.10,130.02 L656.35,129.11 L656.60,128.14 L656.85,127.11 L657.10,126.04 L657.35,124.91 L657.60,123.74 L657.85,122.53 L658.10,121.28 L658.35,119.99 L658.60,118.68 L658.85,117.33 L659.10,115.97 L659.35,114.59 L659.60,113.19 L659.85,111.78 L660.10,110.37 L660.35,108.95 L660.60,107.53 L660.85,106.12 L661.10,104.71 L661.35,103.32 L661.60,101.94 L661.85,100.58 L662.10,99.24 L662.35,97.93 L662.60,96.65 L662.85,95.40 L663.10,94.18 L663.35,93.00 L663.60,91.86 L663.85,90.76 L664.10,89.71 L664.35,88.70 L664.60,87.74 L664.85,86.83 L665.10,85.98 L665.35,85.18 L665.60,84.43 L665.85,83.74 L666.10,83.11 L666.35,82.54 L666.60,82.03 L666.85,81.58 L667.10,81.18 L667.35,80.85 L667.60,80.58 L667.85,80.37 L668.10,80.22 L668.35,80.13 L668.60,80.10 L668.85,80.13 L669.10,80.22 L669.35,80.37 L669.60,80.57 L669.85,80.83 L670.10,81.16 L670.35,81.53 L670.60,81.96 L670.85,82.45 L671.10,82.99 L671.35,83.58 L671.60,84.22 L671.85,84.91 L672.10,85.65 L672.35,86.44 L672.60,87.26 L672.85,88.13 L673.10,89.04 L673.35,89.99 L673.60,90.98 L673.85,91.99 L674.10,93.04 L674.35,94.12 L674.60,95.23 L674.85,96.36 L675.10,97.51 L675.35,98.68 L675.60,99.87 L675.85,101.07 L676.10,102.29 L676.35,103.51 L676.60,104.75 L676.85,105.98 L677.10,107.22 L677.35,108.46 L677.60,109.69 L677.85,110.92 L678.10,112.15 L678.35,113.36 L678.60,114.56 L678.85,115.74 L679.10,116.91 L679.35,118.05 L679.60,119.18 L679.85,120.28 L680.10,121.36 L680.35,122.40 L680.60,123.42 L680.85,124.41 L681.10,125.36 L681.35,126.28 L681.60,127.16 L681.85,128.00 L682.10,128.80 L682.35,129.56 L682.60,130.28 L682.85,130.96 L683.10,131.59 L683.35,132.18 L683.60,132.72 L683.85,133.22 L684.10,133.66 L684.35,134.06 L684.60,134.41 L684.85,134.72 L685.10,134.97 L685.35,135.17 L685.60,135.33 L685.85,135.43 L686.10,135.49 L686.35,135.50 L686.60,135.46 L686.85,135.37 L687.10,135.23 L687.35,135.05 L687.60,134.82 L687.85,134.54 L688.10,134.22 L688.35,133.86 L688.60,133.45 L688.85,133.00 L689.10,132.51 L689.35,131.98 L689.60,131.41 L689.85,130.81 L690.10,130.17 L690.35,129.49 L690.60,128.78 L690.85,128.04 L691.10,127.27 L691.35,126.47 L691.60,125.65 L691.85,124.79 L692.10,123.92 L692.35,123.02 L692.60,122.10 L692.85,121.16 L693.10,120.20 L693.35,119.23 L693.60,118.25 L693.85,117.25 L694.10,116.24 L694.35,115.22 L694.60,114.20 L694.85,113.16 L695.10,112.13 L695.35,111.09 L695.60,110.05 L695.85,109.01 L696.10,107.97 L696.35,106.94 L696.60,105.91 L696.85,104.89 L697.10,103.87 L697.35,102.86 L697.60,101.87 L697.85,100.88 L698.10,99.91 L698.35,98.96 L698.60,98.01 L698.85,97.09 L699.10,96.18 L699.35,95.29 L699.60,94.42 L699.85,93.57 L700.10,92.74 L700.35,91.94 L700.60,91.15 L700.85,90.39 L701.10,89.66 L701.35,88.95 L701.60,88.26 L701.85,87.60 L702.10,86.97 L702.35,86.36 L702.60,85.78 L702.85,85.23 L703.10,84.71 L703.35,84.21 L703.60,83.75 L703.85,83.31 L704.10,82.90 L704.35,82.51 L704.60,82.16 L704.85,81.84 L705.10,81.54 L705.35,81.27 L705.60,81.03 L705.85,80.82 L706.10,80.64 L706.35,80.48 L706.60,80.35 L706.85,80.25 L707.10,80.17 L707.35,80.13 L707.60,80.10 L707.85,80.10 L708.10,80.13 L708.35,80.19 L708.60,80.26 L708.85,80.37 L709.10,80.49 L709.35,80.64 L709.60,80.82 L709.85,81.02 L710.10,81.24 L710.35,81.49 L710.60,81.76 L710.85,82.05 L711.10,82.36 L711.35,82.70 L711.60,83.06 L711.85,83.43 L712.10,83.83 L712.35,84.25 L712.60,84.69 L712.85,85.14 L713.10,85.62 L713.35,86.11 L713.60,86.62 L713.85,87.14 L714.10,87.68 L714.35,88.24 L714.60,88.81 L714.85,89.40 L715.10,90.00 L715.35,90.61 L715.60,91.24 L715.85,91.87 L716.10,92.52 L716.35,93.18 L716.60,93.85 L716.85,94.53 L717.10,95.21 L717.35,95.91 L717.60,96.61 L717.85,97.31 L718.10,98.03 L718.35,98.75 L718.60,99.47 L718.85,100.19 L719.10,100.92 L719.35,101.66 L719.60,102.39 L719.85,103.13 L720.10,103.86 L720.35,104.60 L720.60,105.34 L720.85,106.07 L721.10,106.81 L721.35,107.54 L721.60,108.27 L721.85,108.99 L722.10,109.72 L722.35,110.43 L722.60,111.15 L722.85,111.85 L723.10,112.56 L723.35,113.25 L723.60,113.94 L723.85,114.62 L724.10,115.30 L724.35,115.97 L724.60,116.63 L724.85,117.28 L725.10,117.92 L725.35,118.55 L725.60,119.17 L725.85,119.78 L726.10,120.39 L726.35,120.98 L726.60,121.56 L726.85,122.13 L727.10,122.69 L727.35,123.24 L727.60,123.77 L727.85,124.30 L728.10,124.81 L728.35,125.31 L728.60,125.80 L728.85,126.27 L729.10,126.74 L729.35,127.19 L729.60,127.63 L729.85,128.05 L730.10,128.47 L730.35,128.87 L730.60,129.25 L730.85,129.63 L731.10,129.99 L731.35,130.34 L731.60,130.68 L731.85,131.00 L732.10,131.31 L732.35,131.61 L732.60,131.90 L732.85,132.17 L733.10,132.43 L733.35,132.68 L733.60,132.92 L733.85,133.15 L734.10,133.36 L734.35,133.57 L734.60,133.76 L734.85,133.94 L735.10,134.11 L735.35,134.27 L735.60,134.41 L735.85,134.55 L736.10,134.68 L736.35,134.80 L736.60,134.90 L736.85,135.00 L737.10,135.09 L737.35,135.17 L737.60,135.24 L737.85,135.30 L738.10,135.35 L738.35,135.40 L738.60,135.43 L738.85,135.46 L739.10,135.48 L739.35,135.49 L739.60,135.50 L739.85,135.50 L740.10,135.49 L740.35,135.48 L740.60,135.46 L740.85,135.43 L741.10,135.40 L741.35,135.35 L741.60,135.31 L741.85,135.25 L742.10,135.19 L742.35,135.13 L742.60,135.06 L742.85,134.98 L743.10,134.89 L743.35,134.80 L743.60,134.71 L743.85,134.61 L744.10,134.50 L744.35,134.38 L744.60,134.26 L744.85,134.14 L745.10,134.01 L745.35,133.87 L745.60,133.73 L745.85,133.59 L746.10,133.44 L746.35,133.28 L746.60,133.12 L746.85,132.96 L747.10,132.79 L747.35,132.61 L747.60,132.43 L747.85,132.25 L748.10,132.06 L748.35,131.87 L748.60,131.68 L748.85,131.48 L749.10,131.27 L749.35,131.07 L749.60,130.86 L749.85,130.64 L750.10,130.43 L750.35,130.21 L750.60,129.99 L750.85,129.76 L751.10,129.53 L751.35,129.30 L751.60,129.07 L751.85,128.83 L752.10,128.60 L752.35,128.36 L752.60,128.11 L752.85,127.87 L753.10,127.63 L753.35,127.38 L753.60,127.13 L753.85,126.88 L754.10,126.63 L754.35,126.38 L754.60,126.12 L754.85,125.87 L755.10,125.61 L755.35,125.36 L755.60,125.10 L755.85,124.84 L756.10,124.59 L756.35,124.33 L756.60,124.07 L756.85,123.81 L757.10,123.55 L757.35,123.30 L757.60,123.04 L757.85,122.78 L758.10,122.53 L758.35,122.27 L758.60,122.02 L758.85,121.76 L759.10,121.51 L759.35,121.26 L759.60,121.01 L759.85,120.76 L760.10,120.51 L760.35,120.26 L760.60,120.02 L760.85,119.78 L761.10,119.53 L761.35,119.29 L761.60,119.06 L761.85,118.82 L762.10,118.59 L762.35,118.35 L762.60,118.12 L762.85,117.90 L763.10,117.67 L763.35,117.45 L763.60,117.23 L763.85,117.01 L764.10,116.80 L764.35,116.58 L764.60,116.37 L764.85,116.17 L765.10,115.96 L765.35,115.76 L765.60,115.57 L765.85,115.37 L766.10,115.18 L766.35,114.99 L766.60,114.81 L766.85,114.63 L767.10,114.45 L767.35,114.27 L767.60,114.10 L767.85,113.93 L768.10,113.77 L768.35,113.61 L768.60,113.45 L768.85,113.30 L769.10,113.15 L769.35,113.01 L769.60,112.87 L769.85,112.73 L770.10,112.60 L770.35,112.46 L770.60,112.33 L770.85,112.20 L771.10,112.07 L771.35,111.94 L771.60,111.81 L771.85,111.68 L772.10,111.55 L772.35,111.42 L772.60,111.30 L772.85,111.17 L773.10,111.05 L773.35,110.93 L773.60,110.81 L773.85,110.69 L774.10,110.57 L774.35,110.46 L774.60,110.34 L774.85,110.23 L775.10,110.12 L775.35,110.01 L775.60,109.91 L775.85,109.80 L776.10,109.70 L776.35,109.60 L776.60,109.50 L776.85,109.41 L777.10,109.32 L777.35,109.23 L777.60,109.14 L777.85,109.06 L778.10,108.98 L778.35,108.90 L778.60,108.82 L778.85,108.75 L779.10,108.68 L779.35,108.62 L779.60,108.56 L779.85,108.50 L780.10,108.44 L780.35,108.39 L780.60,108.34 L780.85,108.30 L781.10,108.26 L781.35,108.22 L781.60,108.19 L781.85,108.16" fill="none" stroke="url(#wg)" stroke-width="1.4" stroke-linejoin="round"/>
<!-- region separators -->
<line x1="87.1" y1="70.5" x2="87.1" y2="378" stroke="#555" stroke-width="3.8" stroke-dasharray="8.4 8.63" stroke-dashoffset="4.6"/><line x1="109.6" y1="70.5" x2="109.6" y2="378" stroke="#555" stroke-width="3.8" stroke-dasharray="8.4 8.63" stroke-dashoffset="4.6"/><line x1="222.8" y1="70.5" x2="222.8" y2="378" stroke="#555" stroke-width="3.8" stroke-dasharray="8.4 8.63" stroke-dashoffset="4.6"/>
<!-- top labels -->
<text x="41.9" y="36.6" font-size="24.4" fill="#161616" stroke="#161616" stroke-width="0.4" textLength="33.2" lengthAdjust="spacingAndGlyphs">UV</text>
<text x="82.8" y="36.6" font-size="24.4" fill="#161616" stroke="#161616" stroke-width="0.4" textLength="39" lengthAdjust="spacingAndGlyphs">VIS</text>
<text x="146.2" y="36.6" font-size="24.4" fill="#161616" stroke="#161616" stroke-width="0.4" textLength="41.8" lengthAdjust="spacingAndGlyphs">NIR</text>
<path d="M67.85000000000001,43 h2.1 v9.6 l3.9,-1.7 l-4.95,11.7 l-4.95,-11.7 l3.9,1.7 z" fill="#1a1a1a"/><path d="M98.35000000000001,43 h2.1 v9.6 l3.9,-1.7 l-4.95,11.7 l-4.95,-11.7 l3.9,1.7 z" fill="#1a1a1a"/><path d="M165.35,43 h2.1 v9.6 l3.9,-1.7 l-4.95,11.7 l-4.95,-11.7 l3.9,1.7 z" fill="#1a1a1a"/>
<text x="424" y="36.5" font-size="24.4" fill="#161616" stroke="#161616" stroke-width="0.4" textLength="79.8" lengthAdjust="spacingAndGlyphs">Mid-IR</text>
<text x="403" y="68.3" font-size="16.3" fill="#4a4a4a" stroke="#4a4a4a" stroke-width="0.2" textLength="13.2" lengthAdjust="spacingAndGlyphs">(~</text><text x="423.8" y="68.3" font-size="16.3" fill="#4a4a4a" stroke="#4a4a4a" stroke-width="0.2" textLength="7.6" lengthAdjust="spacingAndGlyphs">3</text><text x="438.4" y="68.3" font-size="16.3" fill="#4a4a4a" stroke="#4a4a4a" stroke-width="0.2" textLength="14.6" lengthAdjust="spacingAndGlyphs">to</text><text x="460.8" y="68.3" font-size="16.3" fill="#4a4a4a" stroke="#4a4a4a" stroke-width="0.2" textLength="16.6" lengthAdjust="spacingAndGlyphs">50</text><text x="486" y="68.3" font-size="16.3" fill="#4a4a4a" stroke="#4a4a4a" stroke-width="0.2" textLength="33.2" lengthAdjust="spacingAndGlyphs">µm)</text>
<!-- axis -->
<line x1="62" y1="376.7" x2="796" y2="376.7" stroke="#2b2b2b" stroke-width="2.8"/>
<circle cx="796" cy="375.6" r="2.2" fill="#2b2b2b"/>
<!-- CO2 -->
<path d="M337.6,375.0 L338.3,372.0 L339.7,300.0 L340.0,202.0 L340.9,202.0 L340.9,183.6 L343.0,183.6 L343.3,202.0 L344.4,204.0 L344.6,197.0 L346.6,197.0 L346.8,232.7 L347.9,232.7 L348.2,300.0 L350.6,372.0 L351.3,375.0Z" fill="#f0606c"/>
<path d="M130,374.7 L724,374.7" stroke="#e08088" stroke-width="1.3" fill="none"/>
<!-- HDPE -->
<path d="M68.8,207.0 L68.8,250.0 L68.9,291.0 L70.8,299.0 L70.9,315.0 L72.3,328.0 L74.6,338.0 L76.4,352.0 L77.6,360.5 L80.6,364.7 L83.8,362.2 L87.0,359.8 L94.5,360.0 L96.6,363.7 L98.8,370.0 L103.0,373.5 L110.5,374.3 L116.9,372.2 L121.2,371.1 L126.5,371.8 L131.9,373.5 L136.0,371.5 L138.3,369.4 L140.4,372.2 L149.0,373.9 L161.8,374.5 L175.0,374.6 L200.0,374.8 L214.0,374.0 L217.0,374.9 L240.0,374.8 L258.0,374.0 L262.0,375.0 L280.0,374.9 L284.4,374.1 L285.5,368.0 L286.0,340.0 L286.6,290.0 L287.7,185.5 L288.4,260.0 L289.1,300.0 L290.6,330.0 L291.1,356.0 L291.4,340.0 L292.2,280.0 L293.4,187.5 L294.0,260.0 L294.2,340.0 L294.8,355.0 L296.9,365.2 L300.6,370.4 L308.5,373.5 L320.0,374.3 L345.0,374.6 L400.0,374.4 L437.0,374.0 L441.0,372.2 L444.0,371.6 L450.0,373.2 L470.0,373.4 L490.0,373.2 L500.0,373.6 L506.0,373.8 L508.6,372.0 L510.3,368.0 L511.2,352.0 L512.2,333.0 L513.4,301.5 L515.0,333.0 L516.7,289.8 L518.2,333.0 L519.3,350.0 L521.0,362.0 L524.5,368.2 L529.2,371.3 L535.0,372.4 L542.0,372.4 L548.0,371.0 L555.0,373.2 L570.0,373.6 L590.0,374.0 L600.0,374.1 L615.0,373.6 L633.0,372.2 L660.0,372.2 L661.4,374.5 L663.0,372.4 L687.5,373.1 L710.0,374.0 L726.0,375.2 L760.0,375.8 L796.0,376.0" fill="none" stroke="#2e2e2e" stroke-width="2.9" stroke-linejoin="round" stroke-linecap="round"/>
<!-- water -->
<path d="M186.0,375.0 L186.7,375.0 L187.4,374.9 L188.1,374.9 L188.8,374.9 L189.5,374.9 L190.2,374.8 L190.9,374.8 L191.6,374.8 L192.3,374.8 L193.0,374.7 L193.7,374.7 L194.4,374.7 L195.1,374.7 L195.8,374.7 L196.5,374.7 L197.2,374.6 L197.9,374.6 L198.6,374.6 L199.3,374.6 L200.0,374.6 L200.7,374.6 L201.4,374.6 L202.1,374.6 L202.8,374.6 L203.5,374.6 L204.2,374.6 L204.9,374.6 L205.6,374.6 L206.3,374.6 L207.0,374.6 L207.7,374.6 L208.4,374.6 L209.1,374.6 L209.8,374.6 L210.5,374.6 L211.2,374.6 L211.9,374.6 L212.6,374.6 L213.3,374.5 L214.0,374.5 L214.7,374.5 L215.4,374.5 L216.1,374.5 L216.8,374.5 L217.5,374.5 L218.2,374.5 L218.9,374.5 L219.6,374.5 L220.3,374.5 L221.0,374.5 L221.7,374.5 L222.4,374.5 L223.1,374.5 L223.8,374.5 L224.5,374.5 L225.2,374.5 L225.9,374.5 L226.6,374.5 L227.3,374.5 L228.0,374.5 L228.7,374.5 L229.4,374.4 L230.1,374.4 L230.8,374.4 L231.5,374.4 L232.2,374.4 L232.9,374.3 L233.6,374.3 L234.3,374.3 L235.0,374.3 L235.7,374.2 L236.4,374.2 L237.1,374.1 L237.8,373.9 L238.5,373.7 L239.2,373.5 L239.8,373.2 L240.3,372.9 L240.8,372.4 L241.3,371.8 L241.7,371.1 L242.0,370.5 L242.2,369.9 L242.4,369.3 L242.6,368.6 L242.8,367.9 L243.0,367.2 L243.1,366.5 L243.2,365.8 L243.3,365.1 L243.4,364.4 L243.5,363.7 L243.6,363.0 L243.7,362.3 L243.8,361.6 L243.9,360.9 L243.9,360.2 L244.0,359.5 L244.1,358.8 L244.1,358.1 L244.2,357.4 L244.2,356.7 L244.3,356.0 L244.3,355.3 L244.4,354.6 L244.4,353.9 L244.5,353.2 L244.5,352.5 L244.6,351.8 L244.6,351.1 L244.7,350.4 L244.7,349.7 L244.8,349.0 L244.8,348.3 L244.9,347.7 L244.9,347.0 L245.0,346.3 L245.0,345.6 L245.1,344.9 L245.1,344.2 L245.1,343.5 L245.2,342.8 L245.2,342.1 L245.3,341.4 L245.3,340.7 L245.4,340.0 L245.4,339.3 L245.5,338.6 L245.5,337.9 L245.5,337.2 L245.6,336.5 L245.6,335.8 L245.7,335.1 L245.7,334.4 L245.8,333.7 L245.8,333.0 L245.8,332.3 L245.9,331.6 L245.9,330.9 L246.0,330.2 L246.0,329.5 L246.1,328.8 L246.1,328.1 L246.2,327.4 L246.2,326.7 L246.3,326.0 L246.3,325.3 L246.4,324.6 L246.4,323.9 L246.5,323.2 L246.5,322.5 L246.6,321.8 L246.6,321.1 L246.7,320.4 L246.7,319.7 L246.8,319.0 L246.8,318.3 L246.9,317.6 L246.9,316.9 L247.0,316.2 L247.0,315.5 L247.1,314.8 L247.1,314.1 L247.2,313.4 L247.2,312.7 L247.3,312.0 L247.3,311.3 L247.4,310.6 L247.5,309.9 L247.5,309.2 L247.6,308.5 L247.6,307.8 L247.7,307.1 L247.7,306.4 L247.8,305.8 L247.8,305.1 L247.9,304.4 L247.9,303.7 L248.0,303.0 L248.0,302.3 L248.1,301.6 L248.1,300.9 L248.2,300.2 L248.3,299.5 L248.3,298.8 L248.4,298.1 L248.4,297.4 L248.5,296.7 L248.5,296.0 L248.6,295.3 L248.6,294.6 L248.7,293.9 L248.7,293.2 L248.8,292.5 L248.9,291.8 L248.9,291.1 L249.0,290.4 L249.0,289.7 L249.1,289.0 L249.1,288.3 L249.2,287.6 L249.2,286.9 L249.3,286.2 L249.4,285.5 L249.4,284.8 L249.5,284.1 L249.5,283.4 L249.6,282.7 L249.6,282.0 L249.7,281.3 L249.8,280.6 L249.8,279.9 L249.9,279.2 L249.9,278.5 L250.0,277.8 L250.1,277.1 L250.1,276.4 L250.2,275.7 L250.2,275.0 L250.3,274.4 L250.3,273.7 L250.4,273.0 L250.5,272.3 L250.5,271.6 L250.6,270.9 L250.6,270.2 L250.7,269.5 L250.8,268.8 L250.8,268.1 L250.9,267.4 L250.9,266.7 L251.0,266.0 L251.0,265.3 L251.1,264.6 L251.2,263.9 L251.2,263.2 L251.3,262.5 L251.3,261.8 L251.4,261.1 L251.4,260.4 L251.5,259.7 L251.6,259.0 L251.6,258.3 L251.7,257.6 L251.7,256.9 L251.8,256.2 L251.8,255.5 L251.9,254.8 L251.9,254.1 L252.0,253.4 L252.1,252.7 L252.1,252.0 L252.2,251.3 L252.2,250.6 L252.3,249.9 L252.3,249.2 L252.4,248.5 L252.4,247.8 L252.5,247.1 L252.6,246.4 L252.6,245.7 L252.7,245.0 L252.7,244.3 L252.8,243.7 L252.8,243.0 L252.9,242.3 L252.9,241.6 L253.0,240.9 L253.0,240.2 L253.1,239.5 L253.1,238.8 L253.2,238.1 L253.3,237.4 L253.3,236.7 L253.4,236.0 L253.4,235.3 L253.5,234.6 L253.5,233.9 L253.6,233.2 L253.6,232.5 L253.7,231.8 L253.7,231.1 L253.8,230.4 L253.8,229.7 L253.9,229.0 L254.0,228.3 L254.0,227.6 L254.1,226.9 L254.1,226.2 L254.2,225.5 L254.2,224.8 L254.3,224.1 L254.3,223.4 L254.4,222.7 L254.4,222.0 L254.5,221.3 L254.5,220.6 L254.6,219.9 L254.6,219.2 L254.7,218.5 L254.7,217.8 L254.8,217.1 L254.8,216.4 L254.9,215.7 L255.0,215.0 L255.0,214.3 L255.1,213.6 L255.1,212.9 L255.2,212.2 L255.2,211.5 L255.3,210.8 L255.3,210.1 L255.4,209.5 L255.4,208.8 L255.5,208.1 L255.6,207.4 L255.6,206.7 L255.7,206.0 L255.7,205.3 L255.8,204.6 L255.8,203.9 L255.9,203.2 L256.0,202.5 L256.0,201.8 L256.1,201.1 L256.1,200.4 L256.2,199.7 L256.3,199.0 L256.3,198.3 L256.4,197.6 L256.4,196.9 L256.5,196.2 L256.6,195.5 L256.6,194.8 L256.7,194.1 L256.8,193.4 L256.9,192.7 L256.9,192.0 L257.0,191.3 L257.1,190.6 L257.2,189.9 L257.3,189.2 L257.4,188.5 L257.5,187.8 L257.7,187.2 L257.9,186.5 L258.3,185.7 L258.7,185.2 L259.1,185.4 L259.5,186.1 L259.9,186.8 L260.1,187.4 L260.4,188.1 L260.6,188.8 L260.7,189.4 L260.9,190.1 L261.1,190.8 L261.3,191.5 L261.5,192.2 L261.6,192.8 L261.8,193.5 L262.0,194.2 L262.1,194.9 L262.3,195.6 L262.4,196.2 L262.6,196.9 L262.7,197.6 L262.8,198.3 L263.0,199.0 L263.1,199.7 L263.2,200.4 L263.4,201.1 L263.5,201.7 L263.6,202.4 L263.7,203.1 L263.8,203.8 L263.9,204.5 L264.0,205.2 L264.1,205.9 L264.2,206.6 L264.3,207.3 L264.4,208.0 L264.5,208.7 L264.6,209.4 L264.7,210.1 L264.8,210.7 L264.9,211.4 L265.0,212.1 L265.1,212.8 L265.2,213.5 L265.3,214.2 L265.4,214.9 L265.5,215.6 L265.6,216.3 L265.7,217.0 L265.7,217.7 L265.8,218.4 L265.9,219.1 L266.0,219.8 L266.1,220.5 L266.2,221.2 L266.3,221.8 L266.4,222.5 L266.5,223.2 L266.6,223.9 L266.7,224.6 L266.7,225.3 L266.8,226.0 L266.9,226.7 L267.0,227.4 L267.1,228.1 L267.2,228.8 L267.3,229.5 L267.3,230.2 L267.4,230.9 L267.5,231.6 L267.6,232.3 L267.7,233.0 L267.7,233.7 L267.8,234.4 L267.9,235.1 L268.0,235.7 L268.1,236.4 L268.1,237.1 L268.2,237.8 L268.3,238.5 L268.4,239.2 L268.4,239.9 L268.5,240.6 L268.6,241.3 L268.7,242.0 L268.7,242.7 L268.8,243.4 L268.9,244.1 L268.9,244.8 L269.0,245.5 L269.1,246.2 L269.2,246.9 L269.2,247.6 L269.3,248.3 L269.4,249.0 L269.4,249.7 L269.5,250.4 L269.6,251.1 L269.7,251.8 L269.7,252.5 L269.8,253.2 L269.9,253.8 L269.9,254.5 L270.0,255.2 L270.1,255.9 L270.2,256.6 L270.2,257.3 L270.3,258.0 L270.4,258.7 L270.4,259.4 L270.5,260.1 L270.6,260.8 L270.6,261.5 L270.7,262.2 L270.8,262.9 L270.8,263.6 L270.9,264.3 L271.0,265.0 L271.0,265.7 L271.1,266.4 L271.2,267.1 L271.2,267.8 L271.3,268.5 L271.4,269.2 L271.4,269.9 L271.5,270.6 L271.6,271.3 L271.6,272.0 L271.7,272.7 L271.8,273.4 L271.8,274.1 L271.9,274.8 L272.0,275.4 L272.0,276.1 L272.1,276.8 L272.2,277.5 L272.3,278.2 L272.3,278.9 L272.4,279.6 L272.5,280.3 L272.6,281.0 L272.6,281.7 L272.7,282.4 L272.8,283.1 L272.9,283.8 L273.0,284.5 L273.1,285.2 L273.2,285.9 L273.3,286.6 L273.4,287.3 L273.5,288.0 L273.6,288.6 L273.7,289.3 L273.8,290.0 L273.9,290.7 L274.0,291.4 L274.1,292.1 L274.2,292.8 L274.3,293.5 L274.4,294.2 L274.5,294.9 L274.6,295.6 L274.7,296.3 L274.8,297.0 L274.9,297.7 L275.0,298.3 L275.1,299.0 L275.2,299.7 L275.2,300.4 L275.3,301.1 L275.4,301.8 L275.5,302.5 L275.5,303.2 L275.6,303.9 L275.6,304.6 L275.7,305.3 L275.8,306.0 L275.8,306.7 L275.9,307.4 L275.9,308.1 L276.0,308.8 L276.0,309.5 L276.1,310.2 L276.1,310.9 L276.2,311.6 L276.2,312.3 L276.3,313.0 L276.3,313.7 L276.4,314.4 L276.4,315.1 L276.4,315.8 L276.5,316.5 L276.5,317.2 L276.6,317.9 L276.6,318.6 L276.7,319.3 L276.8,320.0 L276.8,320.7 L276.9,321.4 L276.9,322.1 L277.0,322.8 L277.1,323.5 L277.1,324.2 L277.2,324.9 L277.3,325.6 L277.3,326.3 L277.4,327.0 L277.5,327.7 L277.6,328.4 L277.7,329.0 L277.8,329.7 L277.9,330.4 L278.0,331.1 L278.1,331.8 L278.2,332.5 L278.4,333.1 L278.5,333.8 L278.7,334.5 L278.9,335.2 L279.1,335.9 L279.3,336.5 L279.5,337.2 L279.7,337.9 L279.9,338.6 L280.1,339.2 L280.3,339.9 L280.5,340.6 L280.7,341.3 L280.9,341.9 L281.1,342.6 L281.3,343.3 L281.5,343.9 L281.7,344.6 L281.9,345.3 L282.1,346.0 L282.3,346.6 L282.5,347.3 L282.7,348.0 L282.9,348.6 L283.1,349.3 L283.3,350.0 L283.5,350.6 L283.7,351.3 L283.9,352.0 L284.2,352.6 L284.4,353.3 L284.6,354.0 L284.9,354.6 L285.1,355.3 L285.3,355.9 L285.6,356.6 L285.8,357.3 L286.0,358.0 L286.3,358.7 L286.5,359.4 L286.8,360.1 L287.0,360.7 L287.3,361.4 L287.5,362.1 L287.8,362.7 L288.1,363.4 L288.4,364.0 L288.7,364.6 L289.0,365.2 L289.4,365.7 L289.7,366.3 L290.1,366.8 L290.6,367.3 L291.0,367.8 L291.6,368.3 L292.1,368.7 L292.7,369.2 L293.3,369.6 L293.9,370.0 L294.6,370.3 L295.2,370.7 L295.8,370.9 L296.4,371.2 L297.1,371.4 L297.7,371.7 L298.4,371.9 L299.1,372.1 L299.7,372.4 L300.4,372.5 L301.1,372.7 L301.8,372.9 L302.5,373.0 L303.2,373.1 L303.9,373.2 L304.6,373.3 L305.3,373.3 L306.0,373.4 L306.7,373.4 L307.4,373.5 L308.1,373.5 L308.7,373.6 L309.4,373.6 L310.1,373.7 L310.8,373.7 L311.5,373.8 L312.3,373.8 L313.0,373.8 L313.7,373.9 L314.4,373.9 L315.1,373.9 L315.8,373.9 L316.5,374.0 L317.2,374.0 L317.9,374.0 L318.6,374.0 L319.3,374.0 L320.0,374.0 L320.7,374.0 L321.4,374.0 L322.1,374.0 L322.8,374.0 L323.5,374.0 L324.2,374.0 L324.9,374.0 L325.6,374.0 L326.3,374.0 L327.0,374.0 L327.7,374.0 L328.4,374.0 L329.1,374.0 L329.8,374.0 L330.5,373.9 L331.2,373.9 L331.9,373.9 L332.6,373.9 L333.3,373.9 L334.0,373.9 L334.7,373.9 L335.4,373.9 L336.1,373.9 L336.8,373.9 L337.5,373.8 L338.2,373.8 L338.9,373.8 L339.6,373.8 L340.3,373.8 L341.0,373.8 L341.7,373.7 L342.4,373.7 L343.1,373.7 L343.8,373.6 L344.5,373.6 L345.2,373.5 L345.9,373.4 L346.6,373.4 L347.3,373.3 L348.0,373.2 L348.7,373.1 L349.4,373.0 L350.0,373.0 L350.7,372.9 L351.4,372.7 L352.1,372.6 L352.8,372.5 L353.5,372.3 L354.2,372.1 L354.8,372.0 L355.5,371.8 L356.2,371.6 L356.9,371.5 L357.6,371.3 L358.3,371.2 L359.0,371.1 L359.6,371.0 L360.3,370.9 L361.0,370.8 L361.7,370.7 L362.4,370.6 L363.1,370.5 L363.8,370.4 L364.5,370.3 L365.2,370.2 L365.9,370.1 L366.6,370.0 L367.3,369.9 L368.0,369.9 L368.7,369.8 L369.4,369.7 L370.1,369.7 L370.8,369.7 L371.5,369.6 L372.2,369.6 L372.9,369.6 L373.6,369.6 L374.3,369.6 L375.0,369.6 L375.7,369.6 L376.4,369.6 L377.1,369.7 L377.8,369.7 L378.5,369.7 L379.2,369.7 L379.9,369.8 L380.6,369.8 L381.3,369.8 L382.0,369.8 L382.7,369.9 L383.4,369.9 L384.1,369.9 L384.8,370.0 L385.5,370.0 L386.2,370.1 L386.9,370.1 L387.6,370.1 L388.3,370.2 L389.0,370.2 L389.7,370.3 L390.4,370.3 L391.1,370.4 L391.8,370.4 L392.4,370.5 L393.1,370.6 L393.8,370.7 L394.5,370.7 L395.2,370.8 L395.9,370.9 L396.6,371.0 L397.3,371.1 L398.0,371.2 L398.7,371.3 L399.4,371.4 L400.1,371.4 L400.8,371.5 L401.5,371.6 L402.2,371.7 L402.9,371.8 L403.6,371.9 L404.3,371.9 L405.0,372.0 L405.7,372.0 L406.4,372.1 L407.1,372.1 L407.8,372.2 L408.5,372.2 L409.2,372.3 L409.9,372.3 L410.6,372.3 L411.3,372.4 L412.0,372.4 L412.7,372.4 L413.4,372.4 L414.1,372.5 L414.8,372.5 L415.5,372.5 L416.2,372.6 L416.9,372.6 L417.6,372.6 L418.3,372.6 L419.0,372.6 L419.7,372.7 L420.4,372.7 L421.1,372.7 L421.8,372.7 L422.5,372.7 L423.2,372.7 L423.9,372.7 L424.6,372.7 L425.3,372.7 L426.0,372.7 L426.7,372.6 L427.4,372.6 L428.1,372.6 L428.8,372.5 L429.5,372.5 L430.2,372.4 L430.9,372.4 L431.6,372.3 L432.3,372.2 L433.0,372.2 L433.7,372.1 L434.4,372.0 L435.1,371.9 L435.8,371.8 L436.5,371.7 L437.1,371.6 L437.8,371.5 L438.4,371.3 L439.1,371.1 L439.8,370.9 L440.4,370.6 L441.0,370.2 L441.7,369.9 L442.3,369.5 L442.9,369.1 L443.5,368.7 L444.1,368.3 L444.7,367.9 L445.2,367.5 L445.7,367.1 L446.3,366.7 L446.8,366.2 L447.3,365.8 L447.8,365.3 L448.3,364.8 L448.8,364.2 L449.3,363.7 L449.7,363.2 L450.2,362.6 L450.6,362.0 L451.1,361.5 L451.5,360.9 L451.9,360.3 L452.3,359.8 L452.7,359.2 L453.1,358.6 L453.4,358.0 L453.8,357.4 L454.1,356.8 L454.5,356.2 L454.8,355.6 L455.1,355.0 L455.4,354.4 L455.7,353.7 L456.0,353.1 L456.3,352.4 L456.6,351.8 L456.9,351.2 L457.2,350.5 L457.5,349.9 L457.8,349.2 L458.1,348.6 L458.4,347.9 L458.7,347.3 L459.0,346.7 L459.3,346.1 L459.6,345.4 L459.9,344.8 L460.2,344.1 L460.5,343.5 L460.8,342.8 L461.1,342.2 L461.4,341.6 L461.7,340.9 L462.0,340.3 L462.3,339.7 L462.6,339.1 L463.0,338.5 L463.3,337.9 L463.7,337.3 L464.1,336.7 L464.5,336.1 L465.0,335.5 L465.5,335.0 L466.0,334.6 L466.6,334.3 L467.2,334.0 L467.9,333.8 L468.6,333.9 L469.3,334.2 L469.9,334.5 L470.4,334.9 L470.9,335.3 L471.3,335.9 L471.7,336.5 L472.1,337.1 L472.4,337.8 L472.8,338.4 L473.1,339.1 L473.4,339.7 L473.7,340.3 L474.0,340.9 L474.3,341.6 L474.6,342.2 L474.8,342.9 L475.1,343.6 L475.3,344.2 L475.6,344.9 L475.8,345.5 L476.1,346.2 L476.3,346.9 L476.6,347.5 L476.8,348.2 L477.1,348.8 L477.4,349.5 L477.7,350.1 L478.0,350.7 L478.3,351.3 L478.7,351.9 L479.0,352.5 L479.4,353.1 L479.8,353.7 L480.2,354.3 L480.6,354.9 L481.0,355.5 L481.4,356.1 L481.8,356.7 L482.3,357.2 L482.8,357.7 L483.2,358.2 L483.7,358.7 L484.2,359.1 L484.7,359.5 L485.3,359.9 L485.9,360.3 L486.5,360.6 L487.1,361.0 L487.7,361.4 L488.4,361.7 L489.0,362.0 L489.7,362.3 L490.3,362.6 L491.0,362.9 L491.6,363.1 L492.3,363.4 L492.9,363.6 L493.6,363.8 L494.2,364.1 L494.9,364.3 L495.6,364.5 L496.3,364.7 L496.9,364.8 L497.6,365.0 L498.3,365.2 L499.0,365.4 L499.7,365.5 L500.3,365.7 L501.0,365.8 L501.7,366.0 L502.4,366.2 L503.1,366.3 L503.8,366.5 L504.5,366.6 L505.1,366.8 L505.8,366.9 L506.5,367.0 L507.2,367.1 L507.9,367.2 L508.6,367.3 L509.3,367.3 L510.0,367.4 L510.7,367.4 L511.4,367.4 L512.1,367.5 L512.8,367.5 L513.5,367.5 L514.2,367.5 L514.9,367.6 L515.6,367.6 L516.3,367.6 L517.0,367.6 L517.7,367.7 L518.4,367.7 L519.1,367.7 L519.8,367.7 L520.5,367.7 L521.2,367.7 L521.9,367.8 L522.6,367.8 L523.3,367.8 L524.0,367.8 L524.7,367.8 L525.4,367.8 L526.1,367.8 L526.8,367.8 L527.5,367.8 L528.2,367.8 L528.9,367.8 L529.6,367.8 L530.3,367.8 L531.0,367.8 L531.7,367.8 L532.4,367.8 L533.1,367.8 L533.8,367.8 L534.5,367.8 L535.2,367.8 L535.9,367.9 L536.6,367.9 L537.3,367.9 L538.0,367.9 L538.7,367.9 L539.4,367.9 L540.1,367.9 L540.8,367.9 L541.5,367.9 L542.2,367.9 L542.9,367.9 L543.6,367.9 L544.3,367.9 L545.0,367.9 L545.7,367.9 L546.4,367.9 L547.1,367.9 L547.8,367.9 L548.5,367.9 L549.2,367.9 L549.9,367.9 L550.6,367.9 L551.3,367.9 L552.0,367.9 L552.7,367.9 L553.4,367.9 L554.1,367.9 L554.8,367.9 L555.5,367.9 L556.2,367.9 L556.9,367.9 L557.6,367.9 L558.3,367.9 L559.0,367.9 L559.7,367.9 L560.4,367.9 L561.1,367.9 L561.8,367.9 L562.5,367.9 L563.2,367.9 L563.9,367.9 L564.6,367.9 L565.3,367.9 L566.0,367.9 L566.7,367.9 L567.4,367.9 L568.1,367.9 L568.8,367.9 L569.5,367.9 L570.2,367.9 L570.9,367.9 L571.6,367.9 L572.3,367.9 L573.0,367.9 L573.7,367.9 L574.4,367.9 L575.1,367.9 L575.8,367.9 L576.5,367.9 L577.2,367.9 L577.9,367.9 L578.6,367.9 L579.3,367.9 L580.0,367.9 L580.7,367.9 L581.4,367.9 L582.1,367.9 L582.8,367.9 L583.5,367.9 L584.2,367.9 L584.9,367.9 L585.6,367.9 L586.3,367.9 L587.0,367.9 L587.7,367.9 L588.4,367.9 L589.1,367.9 L589.8,367.9 L590.5,367.9 L591.2,367.9 L591.9,367.9 L592.6,367.9 L593.3,367.9 L594.0,367.9 L594.7,367.9 L595.4,367.9 L596.1,367.9 L596.8,367.9 L597.5,367.9 L598.2,367.9 L598.9,367.9 L599.6,367.9 L600.3,367.9 L601.0,367.9 L601.7,367.9 L602.4,367.9 L603.1,367.9 L603.8,367.9 L604.5,367.9 L605.2,367.9 L605.9,367.9 L606.6,367.9 L607.3,367.9 L608.0,367.9 L608.7,367.9 L609.4,367.9 L610.1,367.9 L610.8,367.9 L611.5,367.9 L612.2,367.9 L612.9,367.9 L613.6,367.9 L614.3,367.9 L615.0,367.9 L615.7,367.9 L616.4,367.9 L617.1,367.9 L617.8,367.9 L618.5,367.9 L619.2,367.9 L619.9,367.9 L620.6,367.9 L621.3,367.9 L622.0,367.9 L622.7,367.9 L623.4,367.9 L624.1,367.9 L624.8,367.9 L625.5,367.9 L626.2,367.9 L626.9,367.9 L627.6,367.9 L628.3,367.9 L629.0,367.9 L629.7,367.9 L630.4,367.9 L631.1,367.9 L631.8,367.9 L632.5,367.9 L633.2,367.9 L633.9,367.9 L634.6,367.9 L635.3,367.9 L636.0,367.9 L636.7,367.9 L637.4,367.9 L638.1,367.9 L638.8,367.9 L639.5,367.9 L640.2,367.9 L640.9,367.8 L641.6,367.8 L642.3,367.8 L643.0,367.8 L643.7,367.8 L644.4,367.8 L645.1,367.8 L645.8,367.8 L646.5,367.8 L647.2,367.8 L647.9,367.8 L648.6,367.8 L649.3,367.8 L650.0,367.8 L650.7,367.8 L651.4,367.8 L652.1,367.8 L652.8,367.8 L653.5,367.8 L654.2,367.8 L654.9,367.8 L655.6,367.8 L656.3,367.8 L657.0,367.8 L657.7,367.8 L658.4,367.8 L659.1,367.8 L659.8,367.8 L660.5,367.8 L661.2,367.8 L661.9,367.8 L662.6,367.8 L663.3,367.8 L664.0,367.8 L664.7,367.8 L665.4,367.8 L666.1,367.8 L666.8,367.8 L667.5,367.8 L668.2,367.8 L668.9,367.8 L669.6,367.8 L670.3,367.8 L671.0,367.8 L671.7,367.8 L672.4,367.7 L673.1,367.7 L673.8,367.7 L674.5,367.7 L675.2,367.7 L675.9,367.7 L676.6,367.7 L677.3,367.7 L678.0,367.7 L678.7,367.7 L679.4,367.7 L680.1,367.7 L680.8,367.7 L681.5,367.7 L682.2,367.7 L682.9,367.7 L683.6,367.7 L684.3,367.7 L685.0,367.7 L685.7,367.7 L686.4,367.6 L687.1,367.6 L687.8,367.6 L688.5,367.6 L689.2,367.6 L689.9,367.6 L690.6,367.6 L691.3,367.6 L692.0,367.6 L692.7,367.6 L693.4,367.6 L694.1,367.6 L694.8,367.6 L695.5,367.6 L696.2,367.5 L696.9,367.5 L697.6,367.5 L698.3,367.5 L699.0,367.5 L699.7,367.5 L700.4,367.5 L701.1,367.5 L701.8,367.5 L702.5,367.5 L703.2,367.4 L703.9,367.4 L704.6,367.4 L705.3,367.4 L706.0,367.4 L706.7,367.4 L707.4,367.4 L708.1,367.3 L708.8,367.3 L709.5,367.3 L710.2,367.3 L710.9,367.3 L711.6,367.2 L712.3,367.2 L713.0,367.2 L713.7,367.2 L714.4,367.1 L715.1,367.1 L715.8,367.1 L716.5,367.1 L717.2,367.0 L717.9,367.0 L718.6,367.0 L719.3,367.0 L720.0,366.9 L720.7,366.9 L721.4,366.9 L722.1,366.8 L722.8,366.8 L723.5,366.8 L724.2,366.8 L724.9,366.7 L725.6,366.7 L726.3,366.7 L727.0,366.6 L727.7,366.6 L728.0,366.6" fill="none" stroke="#6f83c6" stroke-width="2.9" stroke-linejoin="round" stroke-linecap="round"/>
<!-- methane -->
<path d="M267.8,375.5 L268.3,372.0 L271.4,330.0 L272.2,300.0 L273.5,258.0 L274.3,202.0 L275.9,202.0 L275.9,183.3 L278.5,183.3 L278.5,212.6 L282.1,212.6 L282.3,250.0 L282.6,299.0 L285.3,299.5 L287.3,310.0 L288.2,330.0 L289.4,364.0 L293.8,375.5Z M541.0,375.5 L542.0,370.0 L545.3,368.5 L545.3,358.0 L549.2,358.0 L549.2,345.6 L553.0,345.6 L553.0,336.6 L556.2,336.6 L556.2,325.6 L558.6,325.6 L558.6,324.4 L561.4,324.4 L561.4,341.8 L563.3,341.8 L563.3,352.0 L565.0,352.0 L565.0,356.5 L566.7,356.5 L566.7,300.3 L569.5,300.3 L569.5,335.0 L570.5,335.0 L570.5,349.0 L571.5,349.0 L571.5,356.3 L574.0,356.3 L574.0,350.8 L576.0,350.8 L576.0,347.4 L578.4,347.4 L578.4,357.4 L580.5,357.4 L580.5,350.4 L584.9,350.4 L584.9,355.0 L587.4,355.0 L587.4,361.2 L590.0,361.2 L590.0,355.7 L593.1,355.7 L593.1,362.0 L594.4,362.0 L594.4,366.5 L598.0,370.0 L602.0,373.0 L606.0,375.5Z M165,375.5 L170.4,372.4 L175,375.5Z M207,375.5 L212,373.2 L217,371.8 L221,372.4 L225,375.5Z" fill="#45bc7e"/>
<g clip-path="url(#gclip)">
<path d="M68.8,207.0 L68.8,250.0 L68.9,291.0 L70.8,299.0 L70.9,315.0 L72.3,328.0 L74.6,338.0 L76.4,352.0 L77.6,360.5 L80.6,364.7 L83.8,362.2 L87.0,359.8 L94.5,360.0 L96.6,363.7 L98.8,370.0 L103.0,373.5 L110.5,374.3 L116.9,372.2 L121.2,371.1 L126.5,371.8 L131.9,373.5 L136.0,371.5 L138.3,369.4 L140.4,372.2 L149.0,373.9 L161.8,374.5 L175.0,374.6 L200.0,374.8 L214.0,374.0 L217.0,374.9 L240.0,374.8 L258.0,374.0 L262.0,375.0 L280.0,374.9 L284.4,374.1 L285.5,368.0 L286.0,340.0 L286.6,290.0 L287.7,185.5 L288.4,260.0 L289.1,300.0 L290.6,330.0 L291.1,356.0 L291.4,340.0 L292.2,280.0 L293.4,187.5 L294.0,260.0 L294.2,340.0 L294.8,355.0 L296.9,365.2 L300.6,370.4 L308.5,373.5 L320.0,374.3 L345.0,374.6 L400.0,374.4 L437.0,374.0 L441.0,372.2 L444.0,371.6 L450.0,373.2 L470.0,373.4 L490.0,373.2 L500.0,373.6 L506.0,373.8 L508.6,372.0 L510.3,368.0 L511.2,352.0 L512.2,333.0 L513.4,301.5 L515.0,333.0 L516.7,289.8 L518.2,333.0 L519.3,350.0 L521.0,362.0 L524.5,368.2 L529.2,371.3 L535.0,372.4 L542.0,372.4 L548.0,371.0 L555.0,373.2 L570.0,373.6 L590.0,374.0 L600.0,374.1 L615.0,373.6 L633.0,372.2 L660.0,372.2 L661.4,374.5 L663.0,372.4 L687.5,373.1 L710.0,374.0 L726.0,375.2 L760.0,375.8 L796.0,376.0" fill="none" stroke="#188c48" stroke-width="2.4" stroke-linejoin="round" stroke-linecap="round"/>
<path d="M186.0,375.0 L186.7,375.0 L187.4,374.9 L188.1,374.9 L188.8,374.9 L189.5,374.9 L190.2,374.8 L190.9,374.8 L191.6,374.8 L192.3,374.8 L193.0,374.7 L193.7,374.7 L194.4,374.7 L195.1,374.7 L195.8,374.7 L196.5,374.7 L197.2,374.6 L197.9,374.6 L198.6,374.6 L199.3,374.6 L200.0,374.6 L200.7,374.6 L201.4,374.6 L202.1,374.6 L202.8,374.6 L203.5,374.6 L204.2,374.6 L204.9,374.6 L205.6,374.6 L206.3,374.6 L207.0,374.6 L207.7,374.6 L208.4,374.6 L209.1,374.6 L209.8,374.6 L210.5,374.6 L211.2,374.6 L211.9,374.6 L212.6,374.6 L213.3,374.5 L214.0,374.5 L214.7,374.5 L215.4,374.5 L216.1,374.5 L216.8,374.5 L217.5,374.5 L218.2,374.5 L218.9,374.5 L219.6,374.5 L220.3,374.5 L221.0,374.5 L221.7,374.5 L222.4,374.5 L223.1,374.5 L223.8,374.5 L224.5,374.5 L225.2,374.5 L225.9,374.5 L226.6,374.5 L227.3,374.5 L228.0,374.5 L228.7,374.5 L229.4,374.4 L230.1,374.4 L230.8,374.4 L231.5,374.4 L232.2,374.4 L232.9,374.3 L233.6,374.3 L234.3,374.3 L235.0,374.3 L235.7,374.2 L236.4,374.2 L237.1,374.1 L237.8,373.9 L238.5,373.7 L239.2,373.5 L239.8,373.2 L240.3,372.9 L240.8,372.4 L241.3,371.8 L241.7,371.1 L242.0,370.5 L242.2,369.9 L242.4,369.3 L242.6,368.6 L242.8,367.9 L243.0,367.2 L243.1,366.5 L243.2,365.8 L243.3,365.1 L243.4,364.4 L243.5,363.7 L243.6,363.0 L243.7,362.3 L243.8,361.6 L243.9,360.9 L243.9,360.2 L244.0,359.5 L244.1,358.8 L244.1,358.1 L244.2,357.4 L244.2,356.7 L244.3,356.0 L244.3,355.3 L244.4,354.6 L244.4,353.9 L244.5,353.2 L244.5,352.5 L244.6,351.8 L244.6,351.1 L244.7,350.4 L244.7,349.7 L244.8,349.0 L244.8,348.3 L244.9,347.7 L244.9,347.0 L245.0,346.3 L245.0,345.6 L245.1,344.9 L245.1,344.2 L245.1,343.5 L245.2,342.8 L245.2,342.1 L245.3,341.4 L245.3,340.7 L245.4,340.0 L245.4,339.3 L245.5,338.6 L245.5,337.9 L245.5,337.2 L245.6,336.5 L245.6,335.8 L245.7,335.1 L245.7,334.4 L245.8,333.7 L245.8,333.0 L245.8,332.3 L245.9,331.6 L245.9,330.9 L246.0,330.2 L246.0,329.5 L246.1,328.8 L246.1,328.1 L246.2,327.4 L246.2,326.7 L246.3,326.0 L246.3,325.3 L246.4,324.6 L246.4,323.9 L246.5,323.2 L246.5,322.5 L246.6,321.8 L246.6,321.1 L246.7,320.4 L246.7,319.7 L246.8,319.0 L246.8,318.3 L246.9,317.6 L246.9,316.9 L247.0,316.2 L247.0,315.5 L247.1,314.8 L247.1,314.1 L247.2,313.4 L247.2,312.7 L247.3,312.0 L247.3,311.3 L247.4,310.6 L247.5,309.9 L247.5,309.2 L247.6,308.5 L247.6,307.8 L247.7,307.1 L247.7,306.4 L247.8,305.8 L247.8,305.1 L247.9,304.4 L247.9,303.7 L248.0,303.0 L248.0,302.3 L248.1,301.6 L248.1,300.9 L248.2,300.2 L248.3,299.5 L248.3,298.8 L248.4,298.1 L248.4,297.4 L248.5,296.7 L248.5,296.0 L248.6,295.3 L248.6,294.6 L248.7,293.9 L248.7,293.2 L248.8,292.5 L248.9,291.8 L248.9,291.1 L249.0,290.4 L249.0,289.7 L249.1,289.0 L249.1,288.3 L249.2,287.6 L249.2,286.9 L249.3,286.2 L249.4,285.5 L249.4,284.8 L249.5,284.1 L249.5,283.4 L249.6,282.7 L249.6,282.0 L249.7,281.3 L249.8,280.6 L249.8,279.9 L249.9,279.2 L249.9,278.5 L250.0,277.8 L250.1,277.1 L250.1,276.4 L250.2,275.7 L250.2,275.0 L250.3,274.4 L250.3,273.7 L250.4,273.0 L250.5,272.3 L250.5,271.6 L250.6,270.9 L250.6,270.2 L250.7,269.5 L250.8,268.8 L250.8,268.1 L250.9,267.4 L250.9,266.7 L251.0,266.0 L251.0,265.3 L251.1,264.6 L251.2,263.9 L251.2,263.2 L251.3,262.5 L251.3,261.8 L251.4,261.1 L251.4,260.4 L251.5,259.7 L251.6,259.0 L251.6,258.3 L251.7,257.6 L251.7,256.9 L251.8,256.2 L251.8,255.5 L251.9,254.8 L251.9,254.1 L252.0,253.4 L252.1,252.7 L252.1,252.0 L252.2,251.3 L252.2,250.6 L252.3,249.9 L252.3,249.2 L252.4,248.5 L252.4,247.8 L252.5,247.1 L252.6,246.4 L252.6,245.7 L252.7,245.0 L252.7,244.3 L252.8,243.7 L252.8,243.0 L252.9,242.3 L252.9,241.6 L253.0,240.9 L253.0,240.2 L253.1,239.5 L253.1,238.8 L253.2,238.1 L253.3,237.4 L253.3,236.7 L253.4,236.0 L253.4,235.3 L253.5,234.6 L253.5,233.9 L253.6,233.2 L253.6,232.5 L253.7,231.8 L253.7,231.1 L253.8,230.4 L253.8,229.7 L253.9,229.0 L254.0,228.3 L254.0,227.6 L254.1,226.9 L254.1,226.2 L254.2,225.5 L254.2,224.8 L254.3,224.1 L254.3,223.4 L254.4,222.7 L254.4,222.0 L254.5,221.3 L254.5,220.6 L254.6,219.9 L254.6,219.2 L254.7,218.5 L254.7,217.8 L254.8,217.1 L254.8,216.4 L254.9,215.7 L255.0,215.0 L255.0,214.3 L255.1,213.6 L255.1,212.9 L255.2,212.2 L255.2,211.5 L255.3,210.8 L255.3,210.1 L255.4,209.5 L255.4,208.8 L255.5,208.1 L255.6,207.4 L255.6,206.7 L255.7,206.0 L255.7,205.3 L255.8,204.6 L255.8,203.9 L255.9,203.2 L256.0,202.5 L256.0,201.8 L256.1,201.1 L256.1,200.4 L256.2,199.7 L256.3,199.0 L256.3,198.3 L256.4,197.6 L256.4,196.9 L256.5,196.2 L256.6,195.5 L256.6,194.8 L256.7,194.1 L256.8,193.4 L256.9,192.7 L256.9,192.0 L257.0,191.3 L257.1,190.6 L257.2,189.9 L257.3,189.2 L257.4,188.5 L257.5,187.8 L257.7,187.2 L257.9,186.5 L258.3,185.7 L258.7,185.2 L259.1,185.4 L259.5,186.1 L259.9,186.8 L260.1,187.4 L260.4,188.1 L260.6,188.8 L260.7,189.4 L260.9,190.1 L261.1,190.8 L261.3,191.5 L261.5,192.2 L261.6,192.8 L261.8,193.5 L262.0,194.2 L262.1,194.9 L262.3,195.6 L262.4,196.2 L262.6,196.9 L262.7,197.6 L262.8,198.3 L263.0,199.0 L263.1,199.7 L263.2,200.4 L263.4,201.1 L263.5,201.7 L263.6,202.4 L263.7,203.1 L263.8,203.8 L263.9,204.5 L264.0,205.2 L264.1,205.9 L264.2,206.6 L264.3,207.3 L264.4,208.0 L264.5,208.7 L264.6,209.4 L264.7,210.1 L264.8,210.7 L264.9,211.4 L265.0,212.1 L265.1,212.8 L265.2,213.5 L265.3,214.2 L265.4,214.9 L265.5,215.6 L265.6,216.3 L265.7,217.0 L265.7,217.7 L265.8,218.4 L265.9,219.1 L266.0,219.8 L266.1,220.5 L266.2,221.2 L266.3,221.8 L266.4,222.5 L266.5,223.2 L266.6,223.9 L266.7,224.6 L266.7,225.3 L266.8,226.0 L266.9,226.7 L267.0,227.4 L267.1,228.1 L267.2,228.8 L267.3,229.5 L267.3,230.2 L267.4,230.9 L267.5,231.6 L267.6,232.3 L267.7,233.0 L267.7,233.7 L267.8,234.4 L267.9,235.1 L268.0,235.7 L268.1,236.4 L268.1,237.1 L268.2,237.8 L268.3,238.5 L268.4,239.2 L268.4,239.9 L268.5,240.6 L268.6,241.3 L268.7,242.0 L268.7,242.7 L268.8,243.4 L268.9,244.1 L268.9,244.8 L269.0,245.5 L269.1,246.2 L269.2,246.9 L269.2,247.6 L269.3,248.3 L269.4,249.0 L269.4,249.7 L269.5,250.4 L269.6,251.1 L269.7,251.8 L269.7,252.5 L269.8,253.2 L269.9,253.8 L269.9,254.5 L270.0,255.2 L270.1,255.9 L270.2,256.6 L270.2,257.3 L270.3,258.0 L270.4,258.7 L270.4,259.4 L270.5,260.1 L270.6,260.8 L270.6,261.5 L270.7,262.2 L270.8,262.9 L270.8,263.6 L270.9,264.3 L271.0,265.0 L271.0,265.7 L271.1,266.4 L271.2,267.1 L271.2,267.8 L271.3,268.5 L271.4,269.2 L271.4,269.9 L271.5,270.6 L271.6,271.3 L271.6,272.0 L271.7,272.7 L271.8,273.4 L271.8,274.1 L271.9,274.8 L272.0,275.4 L272.0,276.1 L272.1,276.8 L272.2,277.5 L272.3,278.2 L272.3,278.9 L272.4,279.6 L272.5,280.3 L272.6,281.0 L272.6,281.7 L272.7,282.4 L272.8,283.1 L272.9,283.8 L273.0,284.5 L273.1,285.2 L273.2,285.9 L273.3,286.6 L273.4,287.3 L273.5,288.0 L273.6,288.6 L273.7,289.3 L273.8,290.0 L273.9,290.7 L274.0,291.4 L274.1,292.1 L274.2,292.8 L274.3,293.5 L274.4,294.2 L274.5,294.9 L274.6,295.6 L274.7,296.3 L274.8,297.0 L274.9,297.7 L275.0,298.3 L275.1,299.0 L275.2,299.7 L275.2,300.4 L275.3,301.1 L275.4,301.8 L275.5,302.5 L275.5,303.2 L275.6,303.9 L275.6,304.6 L275.7,305.3 L275.8,306.0 L275.8,306.7 L275.9,307.4 L275.9,308.1 L276.0,308.8 L276.0,309.5 L276.1,310.2 L276.1,310.9 L276.2,311.6 L276.2,312.3 L276.3,313.0 L276.3,313.7 L276.4,314.4 L276.4,315.1 L276.4,315.8 L276.5,316.5 L276.5,317.2 L276.6,317.9 L276.6,318.6 L276.7,319.3 L276.8,320.0 L276.8,320.7 L276.9,321.4 L276.9,322.1 L277.0,322.8 L277.1,323.5 L277.1,324.2 L277.2,324.9 L277.3,325.6 L277.3,326.3 L277.4,327.0 L277.5,327.7 L277.6,328.4 L277.7,329.0 L277.8,329.7 L277.9,330.4 L278.0,331.1 L278.1,331.8 L278.2,332.5 L278.4,333.1 L278.5,333.8 L278.7,334.5 L278.9,335.2 L279.1,335.9 L279.3,336.5 L279.5,337.2 L279.7,337.9 L279.9,338.6 L280.1,339.2 L280.3,339.9 L280.5,340.6 L280.7,341.3 L280.9,341.9 L281.1,342.6 L281.3,343.3 L281.5,343.9 L281.7,344.6 L281.9,345.3 L282.1,346.0 L282.3,346.6 L282.5,347.3 L282.7,348.0 L282.9,348.6 L283.1,349.3 L283.3,350.0 L283.5,350.6 L283.7,351.3 L283.9,352.0 L284.2,352.6 L284.4,353.3 L284.6,354.0 L284.9,354.6 L285.1,355.3 L285.3,355.9 L285.6,356.6 L285.8,357.3 L286.0,358.0 L286.3,358.7 L286.5,359.4 L286.8,360.1 L287.0,360.7 L287.3,361.4 L287.5,362.1 L287.8,362.7 L288.1,363.4 L288.4,364.0 L288.7,364.6 L289.0,365.2 L289.4,365.7 L289.7,366.3 L290.1,366.8 L290.6,367.3 L291.0,367.8 L291.6,368.3 L292.1,368.7 L292.7,369.2 L293.3,369.6 L293.9,370.0 L294.6,370.3 L295.2,370.7 L295.8,370.9 L296.4,371.2 L297.1,371.4 L297.7,371.7 L298.4,371.9 L299.1,372.1 L299.7,372.4 L300.4,372.5 L301.1,372.7 L301.8,372.9 L302.5,373.0 L303.2,373.1 L303.9,373.2 L304.6,373.3 L305.3,373.3 L306.0,373.4 L306.7,373.4 L307.4,373.5 L308.1,373.5 L308.7,373.6 L309.4,373.6 L310.1,373.7 L310.8,373.7 L311.5,373.8 L312.3,373.8 L313.0,373.8 L313.7,373.9 L314.4,373.9 L315.1,373.9 L315.8,373.9 L316.5,374.0 L317.2,374.0 L317.9,374.0 L318.6,374.0 L319.3,374.0 L320.0,374.0 L320.7,374.0 L321.4,374.0 L322.1,374.0 L322.8,374.0 L323.5,374.0 L324.2,374.0 L324.9,374.0 L325.6,374.0 L326.3,374.0 L327.0,374.0 L327.7,374.0 L328.4,374.0 L329.1,374.0 L329.8,374.0 L330.5,373.9 L331.2,373.9 L331.9,373.9 L332.6,373.9 L333.3,373.9 L334.0,373.9 L334.7,373.9 L335.4,373.9 L336.1,373.9 L336.8,373.9 L337.5,373.8 L338.2,373.8 L338.9,373.8 L339.6,373.8 L340.3,373.8 L341.0,373.8 L341.7,373.7 L342.4,373.7 L343.1,373.7 L343.8,373.6 L344.5,373.6 L345.2,373.5 L345.9,373.4 L346.6,373.4 L347.3,373.3 L348.0,373.2 L348.7,373.1 L349.4,373.0 L350.0,373.0 L350.7,372.9 L351.4,372.7 L352.1,372.6 L352.8,372.5 L353.5,372.3 L354.2,372.1 L354.8,372.0 L355.5,371.8 L356.2,371.6 L356.9,371.5 L357.6,371.3 L358.3,371.2 L359.0,371.1 L359.6,371.0 L360.3,370.9 L361.0,370.8 L361.7,370.7 L362.4,370.6 L363.1,370.5 L363.8,370.4 L364.5,370.3 L365.2,370.2 L365.9,370.1 L366.6,370.0 L367.3,369.9 L368.0,369.9 L368.7,369.8 L369.4,369.7 L370.1,369.7 L370.8,369.7 L371.5,369.6 L372.2,369.6 L372.9,369.6 L373.6,369.6 L374.3,369.6 L375.0,369.6 L375.7,369.6 L376.4,369.6 L377.1,369.7 L377.8,369.7 L378.5,369.7 L379.2,369.7 L379.9,369.8 L380.6,369.8 L381.3,369.8 L382.0,369.8 L382.7,369.9 L383.4,369.9 L384.1,369.9 L384.8,370.0 L385.5,370.0 L386.2,370.1 L386.9,370.1 L387.6,370.1 L388.3,370.2 L389.0,370.2 L389.7,370.3 L390.4,370.3 L391.1,370.4 L391.8,370.4 L392.4,370.5 L393.1,370.6 L393.8,370.7 L394.5,370.7 L395.2,370.8 L395.9,370.9 L396.6,371.0 L397.3,371.1 L398.0,371.2 L398.7,371.3 L399.4,371.4 L400.1,371.4 L400.8,371.5 L401.5,371.6 L402.2,371.7 L402.9,371.8 L403.6,371.9 L404.3,371.9 L405.0,372.0 L405.7,372.0 L406.4,372.1 L407.1,372.1 L407.8,372.2 L408.5,372.2 L409.2,372.3 L409.9,372.3 L410.6,372.3 L411.3,372.4 L412.0,372.4 L412.7,372.4 L413.4,372.4 L414.1,372.5 L414.8,372.5 L415.5,372.5 L416.2,372.6 L416.9,372.6 L417.6,372.6 L418.3,372.6 L419.0,372.6 L419.7,372.7 L420.4,372.7 L421.1,372.7 L421.8,372.7 L422.5,372.7 L423.2,372.7 L423.9,372.7 L424.6,372.7 L425.3,372.7 L426.0,372.7 L426.7,372.6 L427.4,372.6 L428.1,372.6 L428.8,372.5 L429.5,372.5 L430.2,372.4 L430.9,372.4 L431.6,372.3 L432.3,372.2 L433.0,372.2 L433.7,372.1 L434.4,372.0 L435.1,371.9 L435.8,371.8 L436.5,371.7 L437.1,371.6 L437.8,371.5 L438.4,371.3 L439.1,371.1 L439.8,370.9 L440.4,370.6 L441.0,370.2 L441.7,369.9 L442.3,369.5 L442.9,369.1 L443.5,368.7 L444.1,368.3 L444.7,367.9 L445.2,367.5 L445.7,367.1 L446.3,366.7 L446.8,366.2 L447.3,365.8 L447.8,365.3 L448.3,364.8 L448.8,364.2 L449.3,363.7 L449.7,363.2 L450.2,362.6 L450.6,362.0 L451.1,361.5 L451.5,360.9 L451.9,360.3 L452.3,359.8 L452.7,359.2 L453.1,358.6 L453.4,358.0 L453.8,357.4 L454.1,356.8 L454.5,356.2 L454.8,355.6 L455.1,355.0 L455.4,354.4 L455.7,353.7 L456.0,353.1 L456.3,352.4 L456.6,351.8 L456.9,351.2 L457.2,350.5 L457.5,349.9 L457.8,349.2 L458.1,348.6 L458.4,347.9 L458.7,347.3 L459.0,346.7 L459.3,346.1 L459.6,345.4 L459.9,344.8 L460.2,344.1 L460.5,343.5 L460.8,342.8 L461.1,342.2 L461.4,341.6 L461.7,340.9 L462.0,340.3 L462.3,339.7 L462.6,339.1 L463.0,338.5 L463.3,337.9 L463.7,337.3 L464.1,336.7 L464.5,336.1 L465.0,335.5 L465.5,335.0 L466.0,334.6 L466.6,334.3 L467.2,334.0 L467.9,333.8 L468.6,333.9 L469.3,334.2 L469.9,334.5 L470.4,334.9 L470.9,335.3 L471.3,335.9 L471.7,336.5 L472.1,337.1 L472.4,337.8 L472.8,338.4 L473.1,339.1 L473.4,339.7 L473.7,340.3 L474.0,340.9 L474.3,341.6 L474.6,342.2 L474.8,342.9 L475.1,343.6 L475.3,344.2 L475.6,344.9 L475.8,345.5 L476.1,346.2 L476.3,346.9 L476.6,347.5 L476.8,348.2 L477.1,348.8 L477.4,349.5 L477.7,350.1 L478.0,350.7 L478.3,351.3 L478.7,351.9 L479.0,352.5 L479.4,353.1 L479.8,353.7 L480.2,354.3 L480.6,354.9 L481.0,355.5 L481.4,356.1 L481.8,356.7 L482.3,357.2 L482.8,357.7 L483.2,358.2 L483.7,358.7 L484.2,359.1 L484.7,359.5 L485.3,359.9 L485.9,360.3 L486.5,360.6 L487.1,361.0 L487.7,361.4 L488.4,361.7 L489.0,362.0 L489.7,362.3 L490.3,362.6 L491.0,362.9 L491.6,363.1 L492.3,363.4 L492.9,363.6 L493.6,363.8 L494.2,364.1 L494.9,364.3 L495.6,364.5 L496.3,364.7 L496.9,364.8 L497.6,365.0 L498.3,365.2 L499.0,365.4 L499.7,365.5 L500.3,365.7 L501.0,365.8 L501.7,366.0 L502.4,366.2 L503.1,366.3 L503.8,366.5 L504.5,366.6 L505.1,366.8 L505.8,366.9 L506.5,367.0 L507.2,367.1 L507.9,367.2 L508.6,367.3 L509.3,367.3 L510.0,367.4 L510.7,367.4 L511.4,367.4 L512.1,367.5 L512.8,367.5 L513.5,367.5 L514.2,367.5 L514.9,367.6 L515.6,367.6 L516.3,367.6 L517.0,367.6 L517.7,367.7 L518.4,367.7 L519.1,367.7 L519.8,367.7 L520.5,367.7 L521.2,367.7 L521.9,367.8 L522.6,367.8 L523.3,367.8 L524.0,367.8 L524.7,367.8 L525.4,367.8 L526.1,367.8 L526.8,367.8 L527.5,367.8 L528.2,367.8 L528.9,367.8 L529.6,367.8 L530.3,367.8 L531.0,367.8 L531.7,367.8 L532.4,367.8 L533.1,367.8 L533.8,367.8 L534.5,367.8 L535.2,367.8 L535.9,367.9 L536.6,367.9 L537.3,367.9 L538.0,367.9 L538.7,367.9 L539.4,367.9 L540.1,367.9 L540.8,367.9 L541.5,367.9 L542.2,367.9 L542.9,367.9 L543.6,367.9 L544.3,367.9 L545.0,367.9 L545.7,367.9 L546.4,367.9 L547.1,367.9 L547.8,367.9 L548.5,367.9 L549.2,367.9 L549.9,367.9 L550.6,367.9 L551.3,367.9 L552.0,367.9 L552.7,367.9 L553.4,367.9 L554.1,367.9 L554.8,367.9 L555.5,367.9 L556.2,367.9 L556.9,367.9 L557.6,367.9 L558.3,367.9 L559.0,367.9 L559.7,367.9 L560.4,367.9 L561.1,367.9 L561.8,367.9 L562.5,367.9 L563.2,367.9 L563.9,367.9 L564.6,367.9 L565.3,367.9 L566.0,367.9 L566.7,367.9 L567.4,367.9 L568.1,367.9 L568.8,367.9 L569.5,367.9 L570.2,367.9 L570.9,367.9 L571.6,367.9 L572.3,367.9 L573.0,367.9 L573.7,367.9 L574.4,367.9 L575.1,367.9 L575.8,367.9 L576.5,367.9 L577.2,367.9 L577.9,367.9 L578.6,367.9 L579.3,367.9 L580.0,367.9 L580.7,367.9 L581.4,367.9 L582.1,367.9 L582.8,367.9 L583.5,367.9 L584.2,367.9 L584.9,367.9 L585.6,367.9 L586.3,367.9 L587.0,367.9 L587.7,367.9 L588.4,367.9 L589.1,367.9 L589.8,367.9 L590.5,367.9 L591.2,367.9 L591.9,367.9 L592.6,367.9 L593.3,367.9 L594.0,367.9 L594.7,367.9 L595.4,367.9 L596.1,367.9 L596.8,367.9 L597.5,367.9 L598.2,367.9 L598.9,367.9 L599.6,367.9 L600.3,367.9 L601.0,367.9 L601.7,367.9 L602.4,367.9 L603.1,367.9 L603.8,367.9 L604.5,367.9 L605.2,367.9 L605.9,367.9 L606.6,367.9 L607.3,367.9 L608.0,367.9 L608.7,367.9 L609.4,367.9 L610.1,367.9 L610.8,367.9 L611.5,367.9 L612.2,367.9 L612.9,367.9 L613.6,367.9 L614.3,367.9 L615.0,367.9 L615.7,367.9 L616.4,367.9 L617.1,367.9 L617.8,367.9 L618.5,367.9 L619.2,367.9 L619.9,367.9 L620.6,367.9 L621.3,367.9 L622.0,367.9 L622.7,367.9 L623.4,367.9 L624.1,367.9 L624.8,367.9 L625.5,367.9 L626.2,367.9 L626.9,367.9 L627.6,367.9 L628.3,367.9 L629.0,367.9 L629.7,367.9 L630.4,367.9 L631.1,367.9 L631.8,367.9 L632.5,367.9 L633.2,367.9 L633.9,367.9 L634.6,367.9 L635.3,367.9 L636.0,367.9 L636.7,367.9 L637.4,367.9 L638.1,367.9 L638.8,367.9 L639.5,367.9 L640.2,367.9 L640.9,367.8 L641.6,367.8 L642.3,367.8 L643.0,367.8 L643.7,367.8 L644.4,367.8 L645.1,367.8 L645.8,367.8 L646.5,367.8 L647.2,367.8 L647.9,367.8 L648.6,367.8 L649.3,367.8 L650.0,367.8 L650.7,367.8 L651.4,367.8 L652.1,367.8 L652.8,367.8 L653.5,367.8 L654.2,367.8 L654.9,367.8 L655.6,367.8 L656.3,367.8 L657.0,367.8 L657.7,367.8 L658.4,367.8 L659.1,367.8 L659.8,367.8 L660.5,367.8 L661.2,367.8 L661.9,367.8 L662.6,367.8 L663.3,367.8 L664.0,367.8 L664.7,367.8 L665.4,367.8 L666.1,367.8 L666.8,367.8 L667.5,367.8 L668.2,367.8 L668.9,367.8 L669.6,367.8 L670.3,367.8 L671.0,367.8 L671.7,367.8 L672.4,367.7 L673.1,367.7 L673.8,367.7 L674.5,367.7 L675.2,367.7 L675.9,367.7 L676.6,367.7 L677.3,367.7 L678.0,367.7 L678.7,367.7 L679.4,367.7 L680.1,367.7 L680.8,367.7 L681.5,367.7 L682.2,367.7 L682.9,367.7 L683.6,367.7 L684.3,367.7 L685.0,367.7 L685.7,367.7 L686.4,367.6 L687.1,367.6 L687.8,367.6 L688.5,367.6 L689.2,367.6 L689.9,367.6 L690.6,367.6 L691.3,367.6 L692.0,367.6 L692.7,367.6 L693.4,367.6 L694.1,367.6 L694.8,367.6 L695.5,367.6 L696.2,367.5 L696.9,367.5 L697.6,367.5 L698.3,367.5 L699.0,367.5 L699.7,367.5 L700.4,367.5 L701.1,367.5 L701.8,367.5 L702.5,367.5 L703.2,367.4 L703.9,367.4 L704.6,367.4 L705.3,367.4 L706.0,367.4 L706.7,367.4 L707.4,367.4 L708.1,367.3 L708.8,367.3 L709.5,367.3 L710.2,367.3 L710.9,367.3 L711.6,367.2 L712.3,367.2 L713.0,367.2 L713.7,367.2 L714.4,367.1 L715.1,367.1 L715.8,367.1 L716.5,367.1 L717.2,367.0 L717.9,367.0 L718.6,367.0 L719.3,367.0 L720.0,366.9 L720.7,366.9 L721.4,366.9 L722.1,366.8 L722.8,366.8 L723.5,366.8 L724.2,366.8 L724.9,366.7 L725.6,366.7 L726.3,366.7 L727.0,366.6 L727.7,366.6 L728.0,366.6" fill="none" stroke="#1ea078" stroke-width="2.9" stroke-linejoin="round" stroke-linecap="round"/>
</g>
<path d="M127,376.7 H724" stroke="#188c48" stroke-width="3.2" fill="none"/>
<!-- axis labels -->
<text x="123.8" y="397.2" text-anchor="middle" font-size="17.3" fill="#555" stroke="#555" stroke-width="0.3">1</text><text x="192.1" y="397.2" text-anchor="middle" font-size="17.3" fill="#555" stroke="#555" stroke-width="0.3">2</text><text x="259.6" y="397.2" text-anchor="middle" font-size="17.3" fill="#555" stroke="#555" stroke-width="0.3">3</text><text x="327.5" y="397.2" text-anchor="middle" font-size="17.3" fill="#555" stroke="#555" stroke-width="0.3">4</text><text x="394.2" y="397.2" text-anchor="middle" font-size="17.3" fill="#555" stroke="#555" stroke-width="0.3">5</text><text x="464.4" y="397.2" text-anchor="middle" font-size="17.3" fill="#555" stroke="#555" stroke-width="0.3">6</text><text x="528.6" y="397.2" text-anchor="middle" font-size="17.3" fill="#555" stroke="#555" stroke-width="0.3">7</text><text x="595.7" y="397.2" text-anchor="middle" font-size="17.3" fill="#555" stroke="#555" stroke-width="0.3">8</text><text x="662.2" y="397.2" text-anchor="middle" font-size="17.3" fill="#555" stroke="#555" stroke-width="0.3">9</text><text x="729.6" y="397.2" text-anchor="middle" font-size="17.3" fill="#555" stroke="#555" stroke-width="0.3">10</text><text x="797.2" y="397.2" text-anchor="middle" font-size="17.3" fill="#555" stroke="#555" stroke-width="0.3">11</text>
<text x="354.2" y="428" font-size="21.5" fill="#1c1c1c" stroke="#1c1c1c" stroke-width="0.4" textLength="124.4" lengthAdjust="spacingAndGlyphs">Wavelength</text><text x="489.6" y="428" font-size="21.5" fill="#1c1c1c" stroke="#1c1c1c" stroke-width="0.4" textLength="44.6" lengthAdjust="spacingAndGlyphs">[µm]</text>
<g transform="translate(27.8,0) rotate(-90)"><text x="-372.4" y="0" font-size="21.3" fill="#161616" stroke="#161616" stroke-width="0.4" textLength="104.4" lengthAdjust="spacingAndGlyphs">Molecular</text><text x="-259.6" y="0" font-size="21.3" fill="#161616" stroke="#161616" stroke-width="0.4" textLength="113.6" lengthAdjust="spacingAndGlyphs">absorption</text></g>
<!-- legend -->
<line x1="591" y1="195.5" x2="610" y2="195.5" stroke="#6f83c6" stroke-width="2"/>
<text x="628.5" y="202.7" font-size="22.4" fill="#6f83c6" stroke="#6f83c6" stroke-width="0.4" textLength="61" lengthAdjust="spacingAndGlyphs">Liquid</text><text x="702.4" y="202.7" font-size="22.4" fill="#6f83c6" stroke="#6f83c6" stroke-width="0.4" textLength="58.6" lengthAdjust="spacingAndGlyphs">water</text>
<line x1="591" y1="226.3" x2="610" y2="226.3" stroke="#3cb878" stroke-width="3"/>
<text x="628.3" y="236.4" font-size="22.4" fill="#3cb878" stroke="#3cb878" stroke-width="0.4" textLength="94.3" lengthAdjust="spacingAndGlyphs">Methane</text>
<line x1="591" y1="259" x2="610" y2="259" stroke="#1a1a1a" stroke-width="2.4"/>
<text x="627.4" y="265.6" font-size="22.4" fill="#161616" stroke="#161616" stroke-width="0.4" textLength="87.6" lengthAdjust="spacingAndGlyphs">Polymer</text><text x="722.6" y="265.6" font-size="22.4" fill="#161616" stroke="#161616" stroke-width="0.4" textLength="75.4" lengthAdjust="spacingAndGlyphs">(HDPE)</text>
<line x1="591" y1="289.9" x2="610" y2="289.9" stroke="#f0606c" stroke-width="2.4"/>
<text x="628.2" y="298.7" font-size="22.4" fill="#f0606c" stroke="#f0606c" stroke-width="0.4" textLength="36.2" lengthAdjust="spacingAndGlyphs">CO</text><text x="665.2" y="306.4" font-size="12.6" fill="#f0606c" stroke="#f0606c" stroke-width="0.2">2</text>
<!-- watermark -->
<text transform="translate(367.2,94.9) rotate(37.3)" font-size="19.6" font-weight="300" fill="#bdbdbd" stroke="#ffffff" stroke-width="0.5" paint-order="stroke" font-family="'Liberation Sans','Noto Sans CJK SC',sans-serif">@凌云光子</text><text transform="translate(21.8,174.5) rotate(37.3)" font-size="19.6" font-weight="300" fill="#bdbdbd" stroke="#ffffff" stroke-width="0.5" paint-order="stroke" font-family="'Liberation Sans','Noto Sans CJK SC',sans-serif">@凌云光子</text><text transform="translate(365.7,361.9) rotate(37.3)" font-size="19.6" font-weight="300" fill="#bdbdbd" stroke="#ffffff" stroke-width="0.5" paint-order="stroke" font-family="'Liberation Sans','Noto Sans CJK SC',sans-serif">@凌云光子</text><text transform="translate(710.7,182.6) rotate(37.3)" font-size="19.6" font-weight="300" fill="#bdbdbd" stroke="#ffffff" stroke-width="0.5" paint-order="stroke" font-family="'Liberation Sans','Noto Sans CJK SC',sans-serif">@凌云光子</text>
</svg>
</body></html>
